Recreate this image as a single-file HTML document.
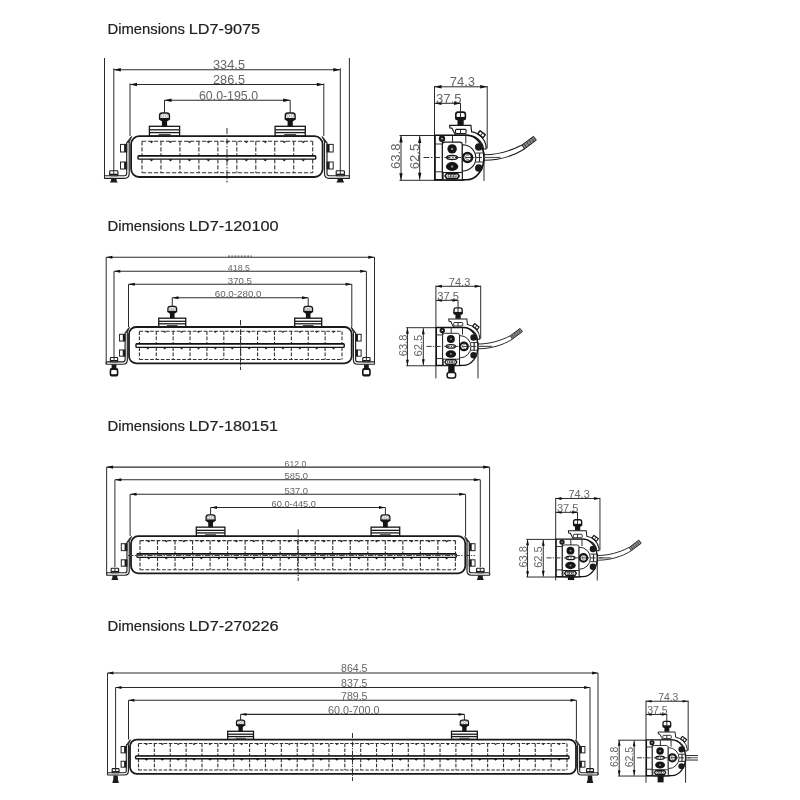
<!DOCTYPE html><html><head><meta charset="utf-8"><style>html,body{margin:0;padding:0;background:#fff;width:800px;height:800px;overflow:hidden}svg{display:block;filter:grayscale(1)}</style></head><body>
<svg width="800" height="800" viewBox="0 0 800 800" font-family='"Liberation Sans", sans-serif'>
<rect width="800" height="800" fill="#fff"/>
<text x="107.5" y="33.7" font-size="15.22" textLength="77.5" lengthAdjust="spacingAndGlyphs" fill="#222" stroke="#222" stroke-width="0.2">Dimensions</text>
<text x="188.75" y="33.7" font-size="15.22" textLength="71.25" lengthAdjust="spacingAndGlyphs" fill="#222" stroke="#222" stroke-width="0.2">LD7-9075</text>
<line x1="104.5" y1="58" x2="104.5" y2="178.7" stroke="#2b2b2b" stroke-width="1" />
<line x1="349.4" y1="58" x2="349.4" y2="178.7" stroke="#2b2b2b" stroke-width="1" />
<line x1="113.8" y1="68.4" x2="113.8" y2="171" stroke="#2b2b2b" stroke-width="1" />
<line x1="340.3" y1="68.4" x2="340.3" y2="171" stroke="#2b2b2b" stroke-width="1" />
<line x1="130" y1="83.4" x2="130" y2="136" stroke="#2b2b2b" stroke-width="1" />
<line x1="323.8" y1="83.4" x2="323.8" y2="136" stroke="#2b2b2b" stroke-width="1" />
<line x1="113.8" y1="69.8" x2="340.3" y2="69.8" stroke="#2b2b2b" stroke-width="1.1" />
<path d="M113.8,69.8 L120.8,68.1 L120.8,71.5 Z" fill="#111"/>
<path d="M340.3,69.8 L333.3,68.1 L333.3,71.5 Z" fill="#111"/>
<text x="213" y="69.2" font-size="12.57" textLength="32" lengthAdjust="spacingAndGlyphs" fill="#666666">334.5</text>
<line x1="130" y1="84.5" x2="323.8" y2="84.5" stroke="#2b2b2b" stroke-width="1.1" />
<path d="M130,84.5 L137,82.8 L137,86.2 Z" fill="#111"/>
<path d="M323.8,84.5 L316.8,82.8 L316.8,86.2 Z" fill="#111"/>
<text x="213" y="83.9" font-size="12.57" textLength="32" lengthAdjust="spacingAndGlyphs" fill="#666666">286.5</text>
<line x1="164.5" y1="100.2" x2="290.2" y2="100.2" stroke="#2b2b2b" stroke-width="1.1" />
<path d="M164.5,100.2 L171.5,98.5 L171.5,101.9 Z" fill="#111"/>
<path d="M290.2,100.2 L283.2,98.5 L283.2,101.9 Z" fill="#111"/>
<text x="199" y="99.6" font-size="12.57" textLength="59" lengthAdjust="spacingAndGlyphs" fill="#666666">60.0-195.0</text>
<line x1="164.5" y1="100.2" x2="164.5" y2="113" stroke="#2b2b2b" stroke-width="1" />
<rect x="149.4" y="126.3" width="30.2" height="9.7" rx="0" fill="#fff" stroke="#151515" stroke-width="1.3" />
<line x1="149.4" y1="129.8" x2="179.6" y2="129.8" stroke="#1a1a1a" stroke-width="1.3" />
<line x1="149.4" y1="132.6" x2="179.6" y2="132.6" stroke="#1a1a1a" stroke-width="1.3" />
<rect x="158.5" y="134" width="12" height="1.2" rx="0" fill="#444" stroke="none" stroke-width="1" />
<path d="M161.1,118.7 L167.9,118.7 L167.1,121.7 L167.1,126.4 L161.9,126.4 L161.9,121.7 Z" fill="#151515"/>
<path d="M159.6,119 L159.6,115.6 Q159.6,113 162.2,113 L166.8,113 Q169.4,113 169.4,115.6 L169.4,119 Z" fill="#fff" stroke="#151515" stroke-width="1.4"/>
<path d="M159.6,118 L169.4,118 L169.4,119.2 Q169.1,120.6 167.3,121 L161.7,121 Q159.9,120.6 159.6,119.2 Z" fill="#151515"/>
<circle cx="162.4" cy="115.9" r="1.5" fill="#fff" stroke="#777" stroke-width="0.6"/>
<circle cx="166.6" cy="115.9" r="1.5" fill="#fff" stroke="#777" stroke-width="0.6"/>
<line x1="290.2" y1="100.2" x2="290.2" y2="113" stroke="#2b2b2b" stroke-width="1" />
<rect x="275.1" y="126.3" width="30.2" height="9.7" rx="0" fill="#fff" stroke="#151515" stroke-width="1.3" />
<line x1="275.1" y1="129.8" x2="305.3" y2="129.8" stroke="#1a1a1a" stroke-width="1.3" />
<line x1="275.1" y1="132.6" x2="305.3" y2="132.6" stroke="#1a1a1a" stroke-width="1.3" />
<rect x="284.2" y="134" width="12" height="1.2" rx="0" fill="#444" stroke="none" stroke-width="1" />
<path d="M286.8,118.7 L293.6,118.7 L292.8,121.7 L292.8,126.4 L287.6,126.4 L287.6,121.7 Z" fill="#151515"/>
<path d="M285.3,119 L285.3,115.6 Q285.3,113 287.9,113 L292.5,113 Q295.1,113 295.1,115.6 L295.1,119 Z" fill="#fff" stroke="#151515" stroke-width="1.4"/>
<path d="M285.3,118 L295.1,118 L295.1,119.2 Q294.8,120.6 293,121 L287.4,121 Q285.6,120.6 285.3,119.2 Z" fill="#151515"/>
<circle cx="288.1" cy="115.9" r="1.5" fill="#fff" stroke="#777" stroke-width="0.6"/>
<circle cx="292.3" cy="115.9" r="1.5" fill="#fff" stroke="#777" stroke-width="0.6"/>
<rect x="131.1" y="136.2" width="191.5" height="40.8" rx="8" fill="#fff" stroke="#1a1a1a" stroke-width="1.8"/>
<line x1="142" y1="141.3" x2="312.7" y2="141.3" stroke="#333" stroke-width="1.1" stroke-dasharray="4.2 1.8"/>
<line x1="142" y1="172.8" x2="312.7" y2="172.8" stroke="#333" stroke-width="1.1" stroke-dasharray="4.2 1.8"/>
<line x1="142" y1="141.3" x2="142" y2="172.8" stroke="#333" stroke-width="1.1" stroke-dasharray="4.2 1.8"/>
<line x1="160.97" y1="141.3" x2="160.97" y2="172.8" stroke="#333" stroke-width="1.1" stroke-dasharray="4.2 1.8"/>
<line x1="179.93" y1="141.3" x2="179.93" y2="172.8" stroke="#333" stroke-width="1.1" stroke-dasharray="4.2 1.8"/>
<line x1="198.9" y1="141.3" x2="198.9" y2="172.8" stroke="#333" stroke-width="1.1" stroke-dasharray="4.2 1.8"/>
<line x1="217.87" y1="141.3" x2="217.87" y2="172.8" stroke="#333" stroke-width="1.1" stroke-dasharray="4.2 1.8"/>
<line x1="236.83" y1="141.3" x2="236.83" y2="172.8" stroke="#333" stroke-width="1.1" stroke-dasharray="4.2 1.8"/>
<line x1="255.8" y1="141.3" x2="255.8" y2="172.8" stroke="#333" stroke-width="1.1" stroke-dasharray="4.2 1.8"/>
<line x1="274.77" y1="141.3" x2="274.77" y2="172.8" stroke="#333" stroke-width="1.1" stroke-dasharray="4.2 1.8"/>
<line x1="293.73" y1="141.3" x2="293.73" y2="172.8" stroke="#333" stroke-width="1.1" stroke-dasharray="4.2 1.8"/>
<line x1="312.7" y1="141.3" x2="312.7" y2="172.8" stroke="#333" stroke-width="1.1" stroke-dasharray="4.2 1.8"/>
<path d="M149.28,141.3 L153.68,141.3 L151.48,143.3 Z" fill="#222"/>
<path d="M149.28,159.3 L153.68,159.3 L151.48,161.5 Z" fill="#222"/>
<path d="M168.25,141.3 L172.65,141.3 L170.45,143.3 Z" fill="#222"/>
<path d="M168.25,159.3 L172.65,159.3 L170.45,161.5 Z" fill="#222"/>
<path d="M187.22,141.3 L191.62,141.3 L189.42,143.3 Z" fill="#222"/>
<path d="M187.22,159.3 L191.62,159.3 L189.42,161.5 Z" fill="#222"/>
<path d="M206.18,141.3 L210.58,141.3 L208.38,143.3 Z" fill="#222"/>
<path d="M206.18,159.3 L210.58,159.3 L208.38,161.5 Z" fill="#222"/>
<path d="M225.15,141.3 L229.55,141.3 L227.35,143.3 Z" fill="#222"/>
<path d="M225.15,159.3 L229.55,159.3 L227.35,161.5 Z" fill="#222"/>
<path d="M244.12,141.3 L248.52,141.3 L246.32,143.3 Z" fill="#222"/>
<path d="M244.12,159.3 L248.52,159.3 L246.32,161.5 Z" fill="#222"/>
<path d="M263.08,141.3 L267.48,141.3 L265.28,143.3 Z" fill="#222"/>
<path d="M263.08,159.3 L267.48,159.3 L265.28,161.5 Z" fill="#222"/>
<path d="M282.05,141.3 L286.45,141.3 L284.25,143.3 Z" fill="#222"/>
<path d="M282.05,159.3 L286.45,159.3 L284.25,161.5 Z" fill="#222"/>
<path d="M301.02,141.3 L305.42,141.3 L303.22,143.3 Z" fill="#222"/>
<path d="M301.02,159.3 L305.42,159.3 L303.22,161.5 Z" fill="#222"/>
<rect x="138" y="155.7" width="177.7" height="3.4" rx="0.8" fill="#fff" stroke="#151515" stroke-width="1.4" />
<line x1="138.5" y1="155.8" x2="315.2" y2="155.8" stroke="#111" stroke-width="1.2" />
<line x1="227" y1="128" x2="227" y2="182.5" stroke="#333" stroke-width="1" stroke-dasharray="6 1.5 1.5 1.5"/>
<path d="M129.2,142 L129.2,173.6 Q129.2,178.4 124.4,178.4 L104.5,178.4" fill="none" stroke="#1e1e1e" stroke-width="1.15"/>
<path d="M126.7,142.6 L126.7,173.5 Q126.7,175.7 124.5,175.7 L104.5,175.7" fill="none" stroke="#1e1e1e" stroke-width="1.15"/>
<line x1="104.5" y1="175.7" x2="104.5" y2="178.4" stroke="#2b2b2b" stroke-width="1.1" />
<path d="M129.2,142 L126.7,142.6 L130.9,137 L131.7,136.5 Z" fill="#333" stroke="#1e1e1e" stroke-width="0.8"/>
<rect x="120.5" y="144.4" width="6.2" height="7.6" rx="0" fill="#fff" stroke="#222" stroke-width="1" />
<rect x="124.1" y="144.4" width="2.6" height="7.6" rx="0" fill="#1a1a1a" stroke="none" stroke-width="1" />
<rect x="120.5" y="162" width="6.2" height="7" rx="0" fill="#fff" stroke="#222" stroke-width="1" />
<rect x="124.1" y="162" width="2.6" height="7" rx="0" fill="#1a1a1a" stroke="none" stroke-width="1" />
<rect x="109.7" y="170.8" width="8.2" height="4.9" rx="0.8" fill="#fff" stroke="#1a1a1a" stroke-width="1.1" />
<line x1="109.7" y1="174.4" x2="117.9" y2="174.4" stroke="#1a1a1a" stroke-width="1.4" />
<line x1="113.8" y1="170.8" x2="113.8" y2="174.4" stroke="#333" stroke-width="1" />
<path d="M111.2,178.8 L116.4,178.8 L116.6,180.62 L117.7,182.5 L109.9,182.5 L111,180.62 Z" fill="#1a1a1a"/>
<path d="M324.5,142 L324.5,173.6 Q324.5,178.4 329.3,178.4 L349.4,178.4" fill="none" stroke="#1e1e1e" stroke-width="1.15"/>
<path d="M327,142.6 L327,173.5 Q327,175.7 329.2,175.7 L349.4,175.7" fill="none" stroke="#1e1e1e" stroke-width="1.15"/>
<line x1="349.4" y1="175.7" x2="349.4" y2="178.4" stroke="#2b2b2b" stroke-width="1.1" />
<path d="M324.5,142 L327,142.6 L322.8,137 L322,136.5 Z" fill="#333" stroke="#1e1e1e" stroke-width="0.8"/>
<rect x="327" y="144.4" width="6.2" height="7.6" rx="0" fill="#fff" stroke="#222" stroke-width="1" />
<rect x="327" y="144.4" width="2.6" height="7.6" rx="0" fill="#1a1a1a" stroke="none" stroke-width="1" />
<rect x="327" y="162" width="6.2" height="7" rx="0" fill="#fff" stroke="#222" stroke-width="1" />
<rect x="327" y="162" width="2.6" height="7" rx="0" fill="#1a1a1a" stroke="none" stroke-width="1" />
<rect x="336.2" y="170.8" width="8.2" height="4.9" rx="0.8" fill="#fff" stroke="#1a1a1a" stroke-width="1.1" />
<line x1="336.2" y1="174.4" x2="344.4" y2="174.4" stroke="#1a1a1a" stroke-width="1.4" />
<line x1="340.3" y1="170.8" x2="340.3" y2="174.4" stroke="#333" stroke-width="1" />
<path d="M337.7,178.8 L342.9,178.8 L343.1,180.62 L344.2,182.5 L336.4,182.5 L337.5,180.62 Z" fill="#1a1a1a"/>
<text x="107.5" y="230.5" font-size="15.22" textLength="77.5" lengthAdjust="spacingAndGlyphs" fill="#222" stroke="#222" stroke-width="0.2">Dimensions</text>
<text x="188.75" y="230.5" font-size="15.22" textLength="89.95" lengthAdjust="spacingAndGlyphs" fill="#222" stroke="#222" stroke-width="0.2">LD7-120100</text>
<line x1="106.2" y1="257.2" x2="106.2" y2="364.4" stroke="#2b2b2b" stroke-width="1" />
<line x1="374.5" y1="257.2" x2="374.5" y2="364.4" stroke="#2b2b2b" stroke-width="1" />
<line x1="114" y1="271.3" x2="114" y2="357.5" stroke="#2b2b2b" stroke-width="1" />
<line x1="366.4" y1="271.3" x2="366.4" y2="357.5" stroke="#2b2b2b" stroke-width="1" />
<line x1="128.5" y1="284.2" x2="128.5" y2="327" stroke="#2b2b2b" stroke-width="1" />
<line x1="351.8" y1="284.2" x2="351.8" y2="327" stroke="#2b2b2b" stroke-width="1" />
<line x1="106.2" y1="257.2" x2="374.5" y2="257.2" stroke="#2b2b2b" stroke-width="1.1" />
<path d="M106.2,257.2 L112.43,255.69 L112.43,258.71 Z" fill="#111"/>
<path d="M374.5,257.2 L368.27,255.69 L368.27,258.71 Z" fill="#111"/>
<line x1="114" y1="271.3" x2="366.4" y2="271.3" stroke="#2b2b2b" stroke-width="1.1" />
<path d="M114,271.3 L120.23,269.79 L120.23,272.81 Z" fill="#111"/>
<path d="M366.4,271.3 L360.17,269.79 L360.17,272.81 Z" fill="#111"/>
<text x="227.8" y="270.7" font-size="9.5" textLength="22.2" lengthAdjust="spacingAndGlyphs" fill="#666666">418.5</text>
<line x1="128.5" y1="284.2" x2="351.8" y2="284.2" stroke="#2b2b2b" stroke-width="1.1" />
<path d="M128.5,284.2 L134.73,282.69 L134.73,285.71 Z" fill="#111"/>
<path d="M351.8,284.2 L345.57,282.69 L345.57,285.71 Z" fill="#111"/>
<text x="227.8" y="283.6" font-size="9.78" textLength="24.2" lengthAdjust="spacingAndGlyphs" fill="#666666">370.5</text>
<line x1="172.25" y1="297.8" x2="308.2" y2="297.8" stroke="#2b2b2b" stroke-width="1.1" />
<path d="M172.25,297.8 L178.48,296.29 L178.48,299.31 Z" fill="#111"/>
<path d="M308.2,297.8 L301.97,296.29 L301.97,299.31 Z" fill="#111"/>
<text x="214.8" y="297.2" font-size="9.78" textLength="46.7" lengthAdjust="spacingAndGlyphs" fill="#666666">60.0-280.0</text>
<line x1="172.25" y1="297.8" x2="172.25" y2="306.35" stroke="#2b2b2b" stroke-width="1" />
<rect x="158.75" y="318.19" width="27" height="8.63" rx="0" fill="#fff" stroke="#151515" stroke-width="1.3" />
<line x1="158.75" y1="321.3" x2="185.75" y2="321.3" stroke="#1a1a1a" stroke-width="1.3" />
<line x1="158.75" y1="323.8" x2="185.75" y2="323.8" stroke="#1a1a1a" stroke-width="1.3" />
<rect x="166.91" y="325.04" width="10.68" height="1.07" rx="0" fill="#444" stroke="none" stroke-width="1" />
<path d="M169.22,311.43 L175.28,311.43 L174.56,314.1 L174.56,318.28 L169.94,318.28 L169.94,314.1 Z" fill="#151515"/>
<path d="M167.89,311.69 L167.89,308.67 Q167.89,306.35 170.2,306.35 L174.3,306.35 Q176.61,306.35 176.61,308.67 L176.61,311.69 Z" fill="#fff" stroke="#151515" stroke-width="1.25"/>
<path d="M167.89,310.8 L176.61,310.8 L176.61,311.87 Q176.34,313.12 174.74,313.47 L169.76,313.47 Q168.16,313.12 167.89,311.87 Z" fill="#151515"/>
<circle cx="170.38" cy="308.93" r="1.33" fill="#fff" stroke="#777" stroke-width="0.6"/>
<circle cx="174.12" cy="308.93" r="1.33" fill="#fff" stroke="#777" stroke-width="0.6"/>
<line x1="308.2" y1="297.8" x2="308.2" y2="306.35" stroke="#2b2b2b" stroke-width="1" />
<rect x="294.7" y="318.19" width="27" height="8.63" rx="0" fill="#fff" stroke="#151515" stroke-width="1.3" />
<line x1="294.7" y1="321.3" x2="321.7" y2="321.3" stroke="#1a1a1a" stroke-width="1.3" />
<line x1="294.7" y1="323.8" x2="321.7" y2="323.8" stroke="#1a1a1a" stroke-width="1.3" />
<rect x="302.86" y="325.04" width="10.68" height="1.07" rx="0" fill="#444" stroke="none" stroke-width="1" />
<path d="M305.17,311.43 L311.23,311.43 L310.51,314.1 L310.51,318.28 L305.89,318.28 L305.89,314.1 Z" fill="#151515"/>
<path d="M303.84,311.69 L303.84,308.67 Q303.84,306.35 306.15,306.35 L310.25,306.35 Q312.56,306.35 312.56,308.67 L312.56,311.69 Z" fill="#fff" stroke="#151515" stroke-width="1.25"/>
<path d="M303.84,310.8 L312.56,310.8 L312.56,311.87 Q312.29,313.12 310.69,313.47 L305.71,313.47 Q304.11,313.12 303.84,311.87 Z" fill="#151515"/>
<circle cx="306.33" cy="308.93" r="1.33" fill="#fff" stroke="#777" stroke-width="0.6"/>
<circle cx="310.07" cy="308.93" r="1.33" fill="#fff" stroke="#777" stroke-width="0.6"/>
<rect x="129" y="327" width="222.7" height="36.3" rx="7.12" fill="#fff" stroke="#1a1a1a" stroke-width="1.8"/>
<line x1="139.4" y1="331.2" x2="342" y2="331.2" stroke="#333" stroke-width="1.1" stroke-dasharray="3.74 1.6"/>
<line x1="139.4" y1="359.5" x2="342" y2="359.5" stroke="#333" stroke-width="1.1" stroke-dasharray="3.74 1.6"/>
<line x1="139.4" y1="331.2" x2="139.4" y2="359.5" stroke="#333" stroke-width="1.1" stroke-dasharray="3.74 1.6"/>
<line x1="156.28" y1="331.2" x2="156.28" y2="359.5" stroke="#333" stroke-width="1.1" stroke-dasharray="3.74 1.6"/>
<line x1="173.17" y1="331.2" x2="173.17" y2="359.5" stroke="#333" stroke-width="1.1" stroke-dasharray="3.74 1.6"/>
<line x1="190.05" y1="331.2" x2="190.05" y2="359.5" stroke="#333" stroke-width="1.1" stroke-dasharray="3.74 1.6"/>
<line x1="206.93" y1="331.2" x2="206.93" y2="359.5" stroke="#333" stroke-width="1.1" stroke-dasharray="3.74 1.6"/>
<line x1="223.82" y1="331.2" x2="223.82" y2="359.5" stroke="#333" stroke-width="1.1" stroke-dasharray="3.74 1.6"/>
<line x1="240.7" y1="331.2" x2="240.7" y2="359.5" stroke="#333" stroke-width="1.1" stroke-dasharray="3.74 1.6"/>
<line x1="257.58" y1="331.2" x2="257.58" y2="359.5" stroke="#333" stroke-width="1.1" stroke-dasharray="3.74 1.6"/>
<line x1="274.47" y1="331.2" x2="274.47" y2="359.5" stroke="#333" stroke-width="1.1" stroke-dasharray="3.74 1.6"/>
<line x1="291.35" y1="331.2" x2="291.35" y2="359.5" stroke="#333" stroke-width="1.1" stroke-dasharray="3.74 1.6"/>
<line x1="308.23" y1="331.2" x2="308.23" y2="359.5" stroke="#333" stroke-width="1.1" stroke-dasharray="3.74 1.6"/>
<line x1="325.12" y1="331.2" x2="325.12" y2="359.5" stroke="#333" stroke-width="1.1" stroke-dasharray="3.74 1.6"/>
<line x1="342" y1="331.2" x2="342" y2="359.5" stroke="#333" stroke-width="1.1" stroke-dasharray="3.74 1.6"/>
<path d="M145.88,331.2 L149.8,331.2 L147.84,332.98 Z" fill="#222"/>
<path d="M145.88,347.6 L149.8,347.6 L147.84,349.56 Z" fill="#222"/>
<path d="M162.77,331.2 L166.68,331.2 L164.72,332.98 Z" fill="#222"/>
<path d="M162.77,347.6 L166.68,347.6 L164.72,349.56 Z" fill="#222"/>
<path d="M179.65,331.2 L183.57,331.2 L181.61,332.98 Z" fill="#222"/>
<path d="M179.65,347.6 L183.57,347.6 L181.61,349.56 Z" fill="#222"/>
<path d="M196.53,331.2 L200.45,331.2 L198.49,332.98 Z" fill="#222"/>
<path d="M196.53,347.6 L200.45,347.6 L198.49,349.56 Z" fill="#222"/>
<path d="M213.42,331.2 L217.33,331.2 L215.38,332.98 Z" fill="#222"/>
<path d="M213.42,347.6 L217.33,347.6 L215.38,349.56 Z" fill="#222"/>
<path d="M230.3,331.2 L234.22,331.2 L232.26,332.98 Z" fill="#222"/>
<path d="M230.3,347.6 L234.22,347.6 L232.26,349.56 Z" fill="#222"/>
<path d="M247.18,331.2 L251.1,331.2 L249.14,332.98 Z" fill="#222"/>
<path d="M247.18,347.6 L251.1,347.6 L249.14,349.56 Z" fill="#222"/>
<path d="M264.07,331.2 L267.98,331.2 L266.02,332.98 Z" fill="#222"/>
<path d="M264.07,347.6 L267.98,347.6 L266.02,349.56 Z" fill="#222"/>
<path d="M280.95,331.2 L284.87,331.2 L282.91,332.98 Z" fill="#222"/>
<path d="M280.95,347.6 L284.87,347.6 L282.91,349.56 Z" fill="#222"/>
<path d="M297.83,331.2 L301.75,331.2 L299.79,332.98 Z" fill="#222"/>
<path d="M297.83,347.6 L301.75,347.6 L299.79,349.56 Z" fill="#222"/>
<path d="M314.72,331.2 L318.63,331.2 L316.68,332.98 Z" fill="#222"/>
<path d="M314.72,347.6 L318.63,347.6 L316.68,349.56 Z" fill="#222"/>
<path d="M331.6,331.2 L335.52,331.2 L333.56,332.98 Z" fill="#222"/>
<path d="M331.6,347.6 L335.52,347.6 L333.56,349.56 Z" fill="#222"/>
<rect x="136" y="343.8" width="208.2" height="3.6" rx="0.8" fill="#fff" stroke="#151515" stroke-width="1.4" />
<line x1="136.5" y1="343.9" x2="343.7" y2="343.9" stroke="#111" stroke-width="1.2" />
<line x1="240.5" y1="320" x2="240.5" y2="370" stroke="#333" stroke-width="1" stroke-dasharray="5.34 1.33 1.33 1.33"/>
<path d="M127.31,332.16 L127.31,359.93 Q127.31,364.2 123.04,364.2 L106.2,364.2" fill="none" stroke="#1e1e1e" stroke-width="1.15"/>
<path d="M125.08,332.7 L125.08,359.84 Q125.08,361.8 123.13,361.8 L106.2,361.8" fill="none" stroke="#1e1e1e" stroke-width="1.15"/>
<line x1="106.2" y1="361.8" x2="106.2" y2="364.2" stroke="#2b2b2b" stroke-width="1.1" />
<path d="M127.31,332.16 L125.08,332.7 L128.8,327.71 L129.6,327.27 Z" fill="#333" stroke="#1e1e1e" stroke-width="0.8"/>
<rect x="119.57" y="334.3" width="5.52" height="6.76" rx="0" fill="#fff" stroke="#222" stroke-width="1" />
<rect x="122.77" y="334.3" width="2.31" height="6.76" rx="0" fill="#1a1a1a" stroke="none" stroke-width="1" />
<rect x="119.57" y="349.96" width="5.52" height="6.23" rx="0" fill="#fff" stroke="#222" stroke-width="1" />
<rect x="122.77" y="349.96" width="2.31" height="6.23" rx="0" fill="#1a1a1a" stroke="none" stroke-width="1" />
<rect x="110.35" y="357.44" width="7.3" height="4.36" rx="0.8" fill="#fff" stroke="#1a1a1a" stroke-width="1.1" />
<line x1="110.35" y1="360.64" x2="117.65" y2="360.64" stroke="#1a1a1a" stroke-width="1.25" />
<line x1="114" y1="357.44" x2="114" y2="360.64" stroke="#333" stroke-width="1" />
<rect x="111.6" y="364.5" width="4.8" height="4.5" rx="0" fill="#1a1a1a" stroke="none" stroke-width="1" />
<rect x="110.4" y="368.8" width="7.2" height="7" rx="2.4" fill="#fff" stroke="#151515" stroke-width="1.6" />
<rect x="110.3" y="368.4" width="7.4" height="1.6" rx="0" fill="#151515" stroke="none" stroke-width="1" />
<rect x="110.3" y="374.2" width="7.4" height="1.6" rx="0.8" fill="#151515" stroke="none" stroke-width="1" />
<path d="M353.39,332.16 L353.39,359.93 Q353.39,364.2 357.66,364.2 L374.5,364.2" fill="none" stroke="#1e1e1e" stroke-width="1.15"/>
<path d="M355.62,332.7 L355.62,359.84 Q355.62,361.8 357.57,361.8 L374.5,361.8" fill="none" stroke="#1e1e1e" stroke-width="1.15"/>
<line x1="374.5" y1="361.8" x2="374.5" y2="364.2" stroke="#2b2b2b" stroke-width="1.1" />
<path d="M353.39,332.16 L355.62,332.7 L351.9,327.71 L351.1,327.27 Z" fill="#333" stroke="#1e1e1e" stroke-width="0.8"/>
<rect x="355.62" y="334.3" width="5.52" height="6.76" rx="0" fill="#fff" stroke="#222" stroke-width="1" />
<rect x="355.62" y="334.3" width="2.31" height="6.76" rx="0" fill="#1a1a1a" stroke="none" stroke-width="1" />
<rect x="355.62" y="349.96" width="5.52" height="6.23" rx="0" fill="#fff" stroke="#222" stroke-width="1" />
<rect x="355.62" y="349.96" width="2.31" height="6.23" rx="0" fill="#1a1a1a" stroke="none" stroke-width="1" />
<rect x="362.75" y="357.44" width="7.3" height="4.36" rx="0.8" fill="#fff" stroke="#1a1a1a" stroke-width="1.1" />
<line x1="362.75" y1="360.64" x2="370.05" y2="360.64" stroke="#1a1a1a" stroke-width="1.25" />
<line x1="366.4" y1="357.44" x2="366.4" y2="360.64" stroke="#333" stroke-width="1" />
<rect x="364" y="364.5" width="4.8" height="4.5" rx="0" fill="#1a1a1a" stroke="none" stroke-width="1" />
<rect x="362.8" y="368.8" width="7.2" height="7" rx="2.4" fill="#fff" stroke="#151515" stroke-width="1.6" />
<rect x="362.7" y="368.4" width="7.4" height="1.6" rx="0" fill="#151515" stroke="none" stroke-width="1" />
<rect x="362.7" y="374.2" width="7.4" height="1.6" rx="0.8" fill="#151515" stroke="none" stroke-width="1" />
<text x="107.5" y="430.5" font-size="15.22" textLength="77.5" lengthAdjust="spacingAndGlyphs" fill="#222" stroke="#222" stroke-width="0.2">Dimensions</text>
<text x="188.75" y="430.5" font-size="15.22" textLength="89.25" lengthAdjust="spacingAndGlyphs" fill="#222" stroke="#222" stroke-width="0.2">LD7-180151</text>
<line x1="106.65" y1="467.1" x2="106.65" y2="575.2" stroke="#2b2b2b" stroke-width="1" />
<line x1="489.6" y1="467.1" x2="489.6" y2="575.2" stroke="#2b2b2b" stroke-width="1" />
<line x1="114.9" y1="479.8" x2="114.9" y2="567" stroke="#2b2b2b" stroke-width="1" />
<line x1="480.3" y1="479.8" x2="480.3" y2="567" stroke="#2b2b2b" stroke-width="1" />
<line x1="130.1" y1="494.3" x2="130.1" y2="536" stroke="#2b2b2b" stroke-width="1" />
<line x1="465.6" y1="494.3" x2="465.6" y2="536" stroke="#2b2b2b" stroke-width="1" />
<line x1="106.65" y1="467.1" x2="489.6" y2="467.1" stroke="#2b2b2b" stroke-width="1.1" />
<path d="M106.65,467.1 L113.06,465.54 L113.06,468.66 Z" fill="#111"/>
<path d="M489.6,467.1 L483.2,465.54 L483.2,468.66 Z" fill="#111"/>
<text x="284.5" y="466.5" font-size="9.08" textLength="22" lengthAdjust="spacingAndGlyphs" fill="#666666">612.0</text>
<line x1="114.9" y1="479.8" x2="480.3" y2="479.8" stroke="#2b2b2b" stroke-width="1.1" />
<path d="M114.9,479.8 L121.31,478.24 L121.31,481.36 Z" fill="#111"/>
<path d="M480.3,479.8 L473.9,478.24 L473.9,481.36 Z" fill="#111"/>
<text x="284.5" y="479.2" font-size="9.78" textLength="23.5" lengthAdjust="spacingAndGlyphs" fill="#666666">585.0</text>
<line x1="130.1" y1="494.3" x2="465.6" y2="494.3" stroke="#2b2b2b" stroke-width="1.1" />
<path d="M130.1,494.3 L136.5,492.74 L136.5,495.86 Z" fill="#111"/>
<path d="M465.6,494.3 L459.2,492.74 L459.2,495.86 Z" fill="#111"/>
<text x="284.5" y="493.7" font-size="9.08" textLength="23.5" lengthAdjust="spacingAndGlyphs" fill="#666666">537.0</text>
<line x1="210.6" y1="507.5" x2="385.4" y2="507.5" stroke="#2b2b2b" stroke-width="1.1" />
<path d="M210.6,507.5 L217,505.94 L217,509.06 Z" fill="#111"/>
<path d="M385.4,507.5 L379,505.94 L379,509.06 Z" fill="#111"/>
<text x="271.5" y="506.9" font-size="9.5" textLength="44.5" lengthAdjust="spacingAndGlyphs" fill="#666666">60.0-445.0</text>
<line x1="210.6" y1="507.5" x2="210.6" y2="514.97" stroke="#2b2b2b" stroke-width="1" />
<rect x="196.3" y="527.14" width="28.6" height="8.88" rx="0" fill="#fff" stroke="#151515" stroke-width="1.3" />
<line x1="196.3" y1="530.34" x2="224.9" y2="530.34" stroke="#1a1a1a" stroke-width="1.3" />
<line x1="196.3" y1="532.91" x2="224.9" y2="532.91" stroke="#1a1a1a" stroke-width="1.3" />
<rect x="205.11" y="534.19" width="10.98" height="1.1" rx="0" fill="#444" stroke="none" stroke-width="1" />
<path d="M207.49,520.19 L213.71,520.19 L212.98,522.93 L212.98,527.23 L208.22,527.23 L208.22,522.93 Z" fill="#151515"/>
<path d="M206.12,520.46 L206.12,517.35 Q206.12,514.97 208.5,514.97 L212.7,514.97 Q215.08,514.97 215.08,517.35 L215.08,520.46 Z" fill="#fff" stroke="#151515" stroke-width="1.28"/>
<path d="M206.12,519.55 L215.08,519.55 L215.08,520.65 Q214.81,521.93 213.16,522.29 L208.04,522.29 Q206.39,521.93 206.12,520.65 Z" fill="#151515"/>
<circle cx="208.68" cy="517.63" r="1.37" fill="#fff" stroke="#777" stroke-width="0.6"/>
<circle cx="212.52" cy="517.63" r="1.37" fill="#fff" stroke="#777" stroke-width="0.6"/>
<line x1="385.4" y1="507.5" x2="385.4" y2="514.97" stroke="#2b2b2b" stroke-width="1" />
<rect x="371.1" y="527.14" width="28.6" height="8.88" rx="0" fill="#fff" stroke="#151515" stroke-width="1.3" />
<line x1="371.1" y1="530.34" x2="399.7" y2="530.34" stroke="#1a1a1a" stroke-width="1.3" />
<line x1="371.1" y1="532.91" x2="399.7" y2="532.91" stroke="#1a1a1a" stroke-width="1.3" />
<rect x="379.91" y="534.19" width="10.98" height="1.1" rx="0" fill="#444" stroke="none" stroke-width="1" />
<path d="M382.29,520.19 L388.51,520.19 L387.78,522.93 L387.78,527.23 L383.02,527.23 L383.02,522.93 Z" fill="#151515"/>
<path d="M380.92,520.46 L380.92,517.35 Q380.92,514.97 383.3,514.97 L387.5,514.97 Q389.88,514.97 389.88,517.35 L389.88,520.46 Z" fill="#fff" stroke="#151515" stroke-width="1.28"/>
<path d="M380.92,519.55 L389.88,519.55 L389.88,520.65 Q389.61,521.93 387.96,522.29 L382.84,522.29 Q381.19,521.93 380.92,520.65 Z" fill="#151515"/>
<circle cx="383.48" cy="517.63" r="1.37" fill="#fff" stroke="#777" stroke-width="0.6"/>
<circle cx="387.32" cy="517.63" r="1.37" fill="#fff" stroke="#777" stroke-width="0.6"/>
<rect x="131" y="536.2" width="334.3" height="37.1" rx="7.32" fill="#fff" stroke="#1a1a1a" stroke-width="1.8"/>
<line x1="140" y1="540.6" x2="455.4" y2="540.6" stroke="#333" stroke-width="1.1" stroke-dasharray="3.84 1.65"/>
<line x1="140" y1="569.8" x2="455.4" y2="569.8" stroke="#333" stroke-width="1.1" stroke-dasharray="3.84 1.65"/>
<line x1="140" y1="540.6" x2="140" y2="569.8" stroke="#333" stroke-width="1.1" stroke-dasharray="3.84 1.65"/>
<line x1="157.52" y1="540.6" x2="157.52" y2="569.8" stroke="#333" stroke-width="1.1" stroke-dasharray="3.84 1.65"/>
<line x1="175.04" y1="540.6" x2="175.04" y2="569.8" stroke="#333" stroke-width="1.1" stroke-dasharray="3.84 1.65"/>
<line x1="192.57" y1="540.6" x2="192.57" y2="569.8" stroke="#333" stroke-width="1.1" stroke-dasharray="3.84 1.65"/>
<line x1="210.09" y1="540.6" x2="210.09" y2="569.8" stroke="#333" stroke-width="1.1" stroke-dasharray="3.84 1.65"/>
<line x1="227.61" y1="540.6" x2="227.61" y2="569.8" stroke="#333" stroke-width="1.1" stroke-dasharray="3.84 1.65"/>
<line x1="245.13" y1="540.6" x2="245.13" y2="569.8" stroke="#333" stroke-width="1.1" stroke-dasharray="3.84 1.65"/>
<line x1="262.66" y1="540.6" x2="262.66" y2="569.8" stroke="#333" stroke-width="1.1" stroke-dasharray="3.84 1.65"/>
<line x1="280.18" y1="540.6" x2="280.18" y2="569.8" stroke="#333" stroke-width="1.1" stroke-dasharray="3.84 1.65"/>
<line x1="297.7" y1="540.6" x2="297.7" y2="569.8" stroke="#333" stroke-width="1.1" stroke-dasharray="3.84 1.65"/>
<line x1="315.22" y1="540.6" x2="315.22" y2="569.8" stroke="#333" stroke-width="1.1" stroke-dasharray="3.84 1.65"/>
<line x1="332.74" y1="540.6" x2="332.74" y2="569.8" stroke="#333" stroke-width="1.1" stroke-dasharray="3.84 1.65"/>
<line x1="350.27" y1="540.6" x2="350.27" y2="569.8" stroke="#333" stroke-width="1.1" stroke-dasharray="3.84 1.65"/>
<line x1="367.79" y1="540.6" x2="367.79" y2="569.8" stroke="#333" stroke-width="1.1" stroke-dasharray="3.84 1.65"/>
<line x1="385.31" y1="540.6" x2="385.31" y2="569.8" stroke="#333" stroke-width="1.1" stroke-dasharray="3.84 1.65"/>
<line x1="402.83" y1="540.6" x2="402.83" y2="569.8" stroke="#333" stroke-width="1.1" stroke-dasharray="3.84 1.65"/>
<line x1="420.36" y1="540.6" x2="420.36" y2="569.8" stroke="#333" stroke-width="1.1" stroke-dasharray="3.84 1.65"/>
<line x1="437.88" y1="540.6" x2="437.88" y2="569.8" stroke="#333" stroke-width="1.1" stroke-dasharray="3.84 1.65"/>
<line x1="455.4" y1="540.6" x2="455.4" y2="569.8" stroke="#333" stroke-width="1.1" stroke-dasharray="3.84 1.65"/>
<path d="M146.75,540.6 L150.77,540.6 L148.76,542.43 Z" fill="#222"/>
<path d="M146.75,557.6 L150.77,557.6 L148.76,559.61 Z" fill="#222"/>
<path d="M164.27,540.6 L168.3,540.6 L166.28,542.43 Z" fill="#222"/>
<path d="M164.27,557.6 L168.3,557.6 L166.28,559.61 Z" fill="#222"/>
<path d="M181.79,540.6 L185.82,540.6 L183.81,542.43 Z" fill="#222"/>
<path d="M181.79,557.6 L185.82,557.6 L183.81,559.61 Z" fill="#222"/>
<path d="M199.31,540.6 L203.34,540.6 L201.33,542.43 Z" fill="#222"/>
<path d="M199.31,557.6 L203.34,557.6 L201.33,559.61 Z" fill="#222"/>
<path d="M216.84,540.6 L220.86,540.6 L218.85,542.43 Z" fill="#222"/>
<path d="M216.84,557.6 L220.86,557.6 L218.85,559.61 Z" fill="#222"/>
<path d="M234.36,540.6 L238.39,540.6 L236.37,542.43 Z" fill="#222"/>
<path d="M234.36,557.6 L238.39,557.6 L236.37,559.61 Z" fill="#222"/>
<path d="M251.88,540.6 L255.91,540.6 L253.89,542.43 Z" fill="#222"/>
<path d="M251.88,557.6 L255.91,557.6 L253.89,559.61 Z" fill="#222"/>
<path d="M269.4,540.6 L273.43,540.6 L271.42,542.43 Z" fill="#222"/>
<path d="M269.4,557.6 L273.43,557.6 L271.42,559.61 Z" fill="#222"/>
<path d="M286.93,540.6 L290.95,540.6 L288.94,542.43 Z" fill="#222"/>
<path d="M286.93,557.6 L290.95,557.6 L288.94,559.61 Z" fill="#222"/>
<path d="M304.45,540.6 L308.47,540.6 L306.46,542.43 Z" fill="#222"/>
<path d="M304.45,557.6 L308.47,557.6 L306.46,559.61 Z" fill="#222"/>
<path d="M321.97,540.6 L326,540.6 L323.98,542.43 Z" fill="#222"/>
<path d="M321.97,557.6 L326,557.6 L323.98,559.61 Z" fill="#222"/>
<path d="M339.49,540.6 L343.52,540.6 L341.51,542.43 Z" fill="#222"/>
<path d="M339.49,557.6 L343.52,557.6 L341.51,559.61 Z" fill="#222"/>
<path d="M357.01,540.6 L361.04,540.6 L359.03,542.43 Z" fill="#222"/>
<path d="M357.01,557.6 L361.04,557.6 L359.03,559.61 Z" fill="#222"/>
<path d="M374.54,540.6 L378.56,540.6 L376.55,542.43 Z" fill="#222"/>
<path d="M374.54,557.6 L378.56,557.6 L376.55,559.61 Z" fill="#222"/>
<path d="M392.06,540.6 L396.09,540.6 L394.07,542.43 Z" fill="#222"/>
<path d="M392.06,557.6 L396.09,557.6 L394.07,559.61 Z" fill="#222"/>
<path d="M409.58,540.6 L413.61,540.6 L411.59,542.43 Z" fill="#222"/>
<path d="M409.58,557.6 L413.61,557.6 L411.59,559.61 Z" fill="#222"/>
<path d="M427.1,540.6 L431.13,540.6 L429.12,542.43 Z" fill="#222"/>
<path d="M427.1,557.6 L431.13,557.6 L429.12,559.61 Z" fill="#222"/>
<path d="M444.63,540.6 L448.65,540.6 L446.64,542.43 Z" fill="#222"/>
<path d="M444.63,557.6 L448.65,557.6 L446.64,559.61 Z" fill="#222"/>
<rect x="137" y="553.8" width="319.3" height="3.6" rx="0.8" fill="#fff" stroke="#151515" stroke-width="1.4" />
<line x1="137.5" y1="553.9" x2="455.8" y2="553.9" stroke="#111" stroke-width="1.2" />
<line x1="298.2" y1="529.4" x2="298.2" y2="581" stroke="#333" stroke-width="1" stroke-dasharray="5.49 1.37 1.37 1.37"/>
<line x1="128" y1="555.5" x2="475" y2="555.5" stroke="#444" stroke-width="1" stroke-dasharray="5.49 1.37 1.37 1.37"/>
<path d="M129.26,541.51 L129.26,570.81 Q129.26,575.2 124.87,575.2 L106.65,575.2" fill="none" stroke="#1e1e1e" stroke-width="1.15"/>
<path d="M126.97,542.06 L126.97,570.72 Q126.97,572.73 124.96,572.73 L106.65,572.73" fill="none" stroke="#1e1e1e" stroke-width="1.15"/>
<line x1="106.65" y1="572.73" x2="106.65" y2="575.2" stroke="#2b2b2b" stroke-width="1.1" />
<path d="M129.26,541.51 L126.97,542.06 L130.8,536.93 L131.6,536.47 Z" fill="#333" stroke="#1e1e1e" stroke-width="0.8"/>
<rect x="121.3" y="543.7" width="5.67" height="6.95" rx="0" fill="#fff" stroke="#222" stroke-width="1" />
<rect x="124.59" y="543.7" width="2.38" height="6.95" rx="0" fill="#1a1a1a" stroke="none" stroke-width="1" />
<rect x="121.3" y="559.81" width="5.67" height="6.4" rx="0" fill="#fff" stroke="#222" stroke-width="1" />
<rect x="124.59" y="559.81" width="2.38" height="6.4" rx="0" fill="#1a1a1a" stroke="none" stroke-width="1" />
<rect x="111.15" y="568.25" width="7.5" height="4.48" rx="0.8" fill="#fff" stroke="#1a1a1a" stroke-width="1.1" />
<line x1="111.15" y1="571.54" x2="118.65" y2="571.54" stroke="#1a1a1a" stroke-width="1.28" />
<line x1="114.9" y1="568.25" x2="114.9" y2="571.54" stroke="#333" stroke-width="1" />
<path d="M112.52,575.6 L117.28,575.6 L117.46,577.9 L118.47,580.1 L111.33,580.1 L112.34,577.9 Z" fill="#1a1a1a"/>
<path d="M467.04,541.51 L467.04,570.81 Q467.04,575.2 471.43,575.2 L489.6,575.2" fill="none" stroke="#1e1e1e" stroke-width="1.15"/>
<path d="M469.33,542.06 L469.33,570.72 Q469.33,572.73 471.34,572.73 L489.6,572.73" fill="none" stroke="#1e1e1e" stroke-width="1.15"/>
<line x1="489.6" y1="572.73" x2="489.6" y2="575.2" stroke="#2b2b2b" stroke-width="1.1" />
<path d="M467.04,541.51 L469.33,542.06 L465.5,536.93 L464.7,536.47 Z" fill="#333" stroke="#1e1e1e" stroke-width="0.8"/>
<rect x="469.33" y="543.7" width="5.67" height="6.95" rx="0" fill="#fff" stroke="#222" stroke-width="1" />
<rect x="469.33" y="543.7" width="2.38" height="6.95" rx="0" fill="#1a1a1a" stroke="none" stroke-width="1" />
<rect x="469.33" y="559.81" width="5.67" height="6.4" rx="0" fill="#fff" stroke="#222" stroke-width="1" />
<rect x="469.33" y="559.81" width="2.38" height="6.4" rx="0" fill="#1a1a1a" stroke="none" stroke-width="1" />
<rect x="476.55" y="568.25" width="7.5" height="4.48" rx="0.8" fill="#fff" stroke="#1a1a1a" stroke-width="1.1" />
<line x1="476.55" y1="571.54" x2="484.05" y2="571.54" stroke="#1a1a1a" stroke-width="1.28" />
<line x1="480.3" y1="568.25" x2="480.3" y2="571.54" stroke="#333" stroke-width="1" />
<path d="M477.92,575.6 L482.68,575.6 L482.86,577.9 L483.87,580.1 L476.73,580.1 L477.74,577.9 Z" fill="#1a1a1a"/>
<text x="107.5" y="630.5" font-size="15.22" textLength="77.5" lengthAdjust="spacingAndGlyphs" fill="#222" stroke="#222" stroke-width="0.2">Dimensions</text>
<text x="188.75" y="630.5" font-size="15.22" textLength="89.95" lengthAdjust="spacingAndGlyphs" fill="#222" stroke="#222" stroke-width="0.2">LD7-270226</text>
<line x1="107.5" y1="673" x2="107.5" y2="775" stroke="#2b2b2b" stroke-width="1" />
<line x1="598" y1="673" x2="598" y2="775" stroke="#2b2b2b" stroke-width="1" />
<line x1="115.6" y1="687.5" x2="115.6" y2="768" stroke="#2b2b2b" stroke-width="1" />
<line x1="590" y1="687.5" x2="590" y2="768" stroke="#2b2b2b" stroke-width="1" />
<line x1="128.5" y1="700.3" x2="128.5" y2="739.5" stroke="#2b2b2b" stroke-width="1" />
<line x1="576.4" y1="700.3" x2="576.4" y2="739.5" stroke="#2b2b2b" stroke-width="1" />
<line x1="107.5" y1="673" x2="598" y2="673" stroke="#2b2b2b" stroke-width="1.1" />
<path d="M107.5,673 L113.38,671.57 L113.38,674.43 Z" fill="#111"/>
<path d="M598,673 L592.12,671.57 L592.12,674.43 Z" fill="#111"/>
<text x="341" y="672.4" font-size="11.17" textLength="26.5" lengthAdjust="spacingAndGlyphs" fill="#666666">864.5</text>
<line x1="115.6" y1="687.5" x2="590" y2="687.5" stroke="#2b2b2b" stroke-width="1.1" />
<path d="M115.6,687.5 L121.48,686.07 L121.48,688.93 Z" fill="#111"/>
<path d="M590,687.5 L584.12,686.07 L584.12,688.93 Z" fill="#111"/>
<text x="341" y="686.9" font-size="10.89" textLength="26.5" lengthAdjust="spacingAndGlyphs" fill="#666666">837.5</text>
<line x1="128.5" y1="700.3" x2="576.4" y2="700.3" stroke="#2b2b2b" stroke-width="1.1" />
<path d="M128.5,700.3 L134.38,698.87 L134.38,701.73 Z" fill="#111"/>
<path d="M576.4,700.3 L570.52,698.87 L570.52,701.73 Z" fill="#111"/>
<text x="341" y="699.7" font-size="10.61" textLength="26.5" lengthAdjust="spacingAndGlyphs" fill="#666666">789.5</text>
<line x1="240.6" y1="714.4" x2="464.4" y2="714.4" stroke="#2b2b2b" stroke-width="1.1" />
<path d="M240.6,714.4 L246.48,712.97 L246.48,715.83 Z" fill="#111"/>
<path d="M464.4,714.4 L458.52,712.97 L458.52,715.83 Z" fill="#111"/>
<text x="328" y="713.8" font-size="11.45" textLength="51.4" lengthAdjust="spacingAndGlyphs" fill="#666666">60.0-700.0</text>
<line x1="240.6" y1="714.4" x2="240.6" y2="720.11" stroke="#2b2b2b" stroke-width="1" />
<rect x="227.7" y="731.28" width="25.8" height="8.15" rx="0" fill="#fff" stroke="#151515" stroke-width="1.3" />
<line x1="227.7" y1="734.22" x2="253.5" y2="734.22" stroke="#1a1a1a" stroke-width="1.3" />
<line x1="227.7" y1="736.58" x2="253.5" y2="736.58" stroke="#1a1a1a" stroke-width="1.3" />
<rect x="235.56" y="737.75" width="10.08" height="1.01" rx="0" fill="#444" stroke="none" stroke-width="1" />
<path d="M237.74,724.9 L243.46,724.9 L242.78,727.42 L242.78,731.37 L238.42,731.37 L238.42,727.42 Z" fill="#151515"/>
<path d="M236.48,725.15 L236.48,722.3 Q236.48,720.11 238.67,720.11 L242.53,720.11 Q244.72,720.11 244.72,722.3 L244.72,725.15 Z" fill="#fff" stroke="#151515" stroke-width="1.18"/>
<path d="M236.48,724.31 L244.72,724.31 L244.72,725.32 Q244.46,726.5 242.95,726.83 L238.25,726.83 Q236.74,726.5 236.48,725.32 Z" fill="#151515"/>
<circle cx="238.84" cy="722.55" r="1.26" fill="#fff" stroke="#777" stroke-width="0.6"/>
<circle cx="242.36" cy="722.55" r="1.26" fill="#fff" stroke="#777" stroke-width="0.6"/>
<line x1="464.4" y1="714.4" x2="464.4" y2="720.11" stroke="#2b2b2b" stroke-width="1" />
<rect x="451.5" y="731.28" width="25.8" height="8.15" rx="0" fill="#fff" stroke="#151515" stroke-width="1.3" />
<line x1="451.5" y1="734.22" x2="477.3" y2="734.22" stroke="#1a1a1a" stroke-width="1.3" />
<line x1="451.5" y1="736.58" x2="477.3" y2="736.58" stroke="#1a1a1a" stroke-width="1.3" />
<rect x="459.36" y="737.75" width="10.08" height="1.01" rx="0" fill="#444" stroke="none" stroke-width="1" />
<path d="M461.54,724.9 L467.26,724.9 L466.58,727.42 L466.58,731.37 L462.22,731.37 L462.22,727.42 Z" fill="#151515"/>
<path d="M460.28,725.15 L460.28,722.3 Q460.28,720.11 462.47,720.11 L466.33,720.11 Q468.52,720.11 468.52,722.3 L468.52,725.15 Z" fill="#fff" stroke="#151515" stroke-width="1.18"/>
<path d="M460.28,724.31 L468.52,724.31 L468.52,725.32 Q468.26,726.5 466.75,726.83 L462.05,726.83 Q460.54,726.5 460.28,725.32 Z" fill="#151515"/>
<circle cx="462.64" cy="722.55" r="1.26" fill="#fff" stroke="#777" stroke-width="0.6"/>
<circle cx="466.16" cy="722.55" r="1.26" fill="#fff" stroke="#777" stroke-width="0.6"/>
<rect x="130" y="739.6" width="446" height="34.2" rx="6.72" fill="#fff" stroke="#1a1a1a" stroke-width="1.8"/>
<line x1="138.5" y1="743.5" x2="567" y2="743.5" stroke="#333" stroke-width="1.1" stroke-dasharray="3.53 1.51"/>
<line x1="138.5" y1="770" x2="567" y2="770" stroke="#333" stroke-width="1.1" stroke-dasharray="3.53 1.51"/>
<line x1="138.5" y1="743.5" x2="138.5" y2="770" stroke="#333" stroke-width="1.1" stroke-dasharray="3.53 1.51"/>
<line x1="154.37" y1="743.5" x2="154.37" y2="770" stroke="#333" stroke-width="1.1" stroke-dasharray="3.53 1.51"/>
<line x1="170.24" y1="743.5" x2="170.24" y2="770" stroke="#333" stroke-width="1.1" stroke-dasharray="3.53 1.51"/>
<line x1="186.11" y1="743.5" x2="186.11" y2="770" stroke="#333" stroke-width="1.1" stroke-dasharray="3.53 1.51"/>
<line x1="201.98" y1="743.5" x2="201.98" y2="770" stroke="#333" stroke-width="1.1" stroke-dasharray="3.53 1.51"/>
<line x1="217.85" y1="743.5" x2="217.85" y2="770" stroke="#333" stroke-width="1.1" stroke-dasharray="3.53 1.51"/>
<line x1="233.72" y1="743.5" x2="233.72" y2="770" stroke="#333" stroke-width="1.1" stroke-dasharray="3.53 1.51"/>
<line x1="249.59" y1="743.5" x2="249.59" y2="770" stroke="#333" stroke-width="1.1" stroke-dasharray="3.53 1.51"/>
<line x1="265.46" y1="743.5" x2="265.46" y2="770" stroke="#333" stroke-width="1.1" stroke-dasharray="3.53 1.51"/>
<line x1="281.33" y1="743.5" x2="281.33" y2="770" stroke="#333" stroke-width="1.1" stroke-dasharray="3.53 1.51"/>
<line x1="297.2" y1="743.5" x2="297.2" y2="770" stroke="#333" stroke-width="1.1" stroke-dasharray="3.53 1.51"/>
<line x1="313.07" y1="743.5" x2="313.07" y2="770" stroke="#333" stroke-width="1.1" stroke-dasharray="3.53 1.51"/>
<line x1="328.94" y1="743.5" x2="328.94" y2="770" stroke="#333" stroke-width="1.1" stroke-dasharray="3.53 1.51"/>
<line x1="344.81" y1="743.5" x2="344.81" y2="770" stroke="#333" stroke-width="1.1" stroke-dasharray="3.53 1.51"/>
<line x1="360.69" y1="743.5" x2="360.69" y2="770" stroke="#333" stroke-width="1.1" stroke-dasharray="3.53 1.51"/>
<line x1="376.56" y1="743.5" x2="376.56" y2="770" stroke="#333" stroke-width="1.1" stroke-dasharray="3.53 1.51"/>
<line x1="392.43" y1="743.5" x2="392.43" y2="770" stroke="#333" stroke-width="1.1" stroke-dasharray="3.53 1.51"/>
<line x1="408.3" y1="743.5" x2="408.3" y2="770" stroke="#333" stroke-width="1.1" stroke-dasharray="3.53 1.51"/>
<line x1="424.17" y1="743.5" x2="424.17" y2="770" stroke="#333" stroke-width="1.1" stroke-dasharray="3.53 1.51"/>
<line x1="440.04" y1="743.5" x2="440.04" y2="770" stroke="#333" stroke-width="1.1" stroke-dasharray="3.53 1.51"/>
<line x1="455.91" y1="743.5" x2="455.91" y2="770" stroke="#333" stroke-width="1.1" stroke-dasharray="3.53 1.51"/>
<line x1="471.78" y1="743.5" x2="471.78" y2="770" stroke="#333" stroke-width="1.1" stroke-dasharray="3.53 1.51"/>
<line x1="487.65" y1="743.5" x2="487.65" y2="770" stroke="#333" stroke-width="1.1" stroke-dasharray="3.53 1.51"/>
<line x1="503.52" y1="743.5" x2="503.52" y2="770" stroke="#333" stroke-width="1.1" stroke-dasharray="3.53 1.51"/>
<line x1="519.39" y1="743.5" x2="519.39" y2="770" stroke="#333" stroke-width="1.1" stroke-dasharray="3.53 1.51"/>
<line x1="535.26" y1="743.5" x2="535.26" y2="770" stroke="#333" stroke-width="1.1" stroke-dasharray="3.53 1.51"/>
<line x1="551.13" y1="743.5" x2="551.13" y2="770" stroke="#333" stroke-width="1.1" stroke-dasharray="3.53 1.51"/>
<line x1="567" y1="743.5" x2="567" y2="770" stroke="#333" stroke-width="1.1" stroke-dasharray="3.53 1.51"/>
<path d="M144.59,743.5 L148.28,743.5 L146.44,745.18 Z" fill="#222"/>
<path d="M144.59,759 L148.28,759 L146.44,760.85 Z" fill="#222"/>
<path d="M160.46,743.5 L164.15,743.5 L162.31,745.18 Z" fill="#222"/>
<path d="M160.46,759 L164.15,759 L162.31,760.85 Z" fill="#222"/>
<path d="M176.33,743.5 L180.02,743.5 L178.18,745.18 Z" fill="#222"/>
<path d="M176.33,759 L180.02,759 L178.18,760.85 Z" fill="#222"/>
<path d="M192.2,743.5 L195.89,743.5 L194.05,745.18 Z" fill="#222"/>
<path d="M192.2,759 L195.89,759 L194.05,760.85 Z" fill="#222"/>
<path d="M208.07,743.5 L211.76,743.5 L209.92,745.18 Z" fill="#222"/>
<path d="M208.07,759 L211.76,759 L209.92,760.85 Z" fill="#222"/>
<path d="M223.94,743.5 L227.64,743.5 L225.79,745.18 Z" fill="#222"/>
<path d="M223.94,759 L227.64,759 L225.79,760.85 Z" fill="#222"/>
<path d="M239.81,743.5 L243.51,743.5 L241.66,745.18 Z" fill="#222"/>
<path d="M239.81,759 L243.51,759 L241.66,760.85 Z" fill="#222"/>
<path d="M255.68,743.5 L259.38,743.5 L257.53,745.18 Z" fill="#222"/>
<path d="M255.68,759 L259.38,759 L257.53,760.85 Z" fill="#222"/>
<path d="M271.55,743.5 L275.25,743.5 L273.4,745.18 Z" fill="#222"/>
<path d="M271.55,759 L275.25,759 L273.4,760.85 Z" fill="#222"/>
<path d="M287.42,743.5 L291.12,743.5 L289.27,745.18 Z" fill="#222"/>
<path d="M287.42,759 L291.12,759 L289.27,760.85 Z" fill="#222"/>
<path d="M303.29,743.5 L306.99,743.5 L305.14,745.18 Z" fill="#222"/>
<path d="M303.29,759 L306.99,759 L305.14,760.85 Z" fill="#222"/>
<path d="M319.16,743.5 L322.86,743.5 L321.01,745.18 Z" fill="#222"/>
<path d="M319.16,759 L322.86,759 L321.01,760.85 Z" fill="#222"/>
<path d="M335.03,743.5 L338.73,743.5 L336.88,745.18 Z" fill="#222"/>
<path d="M335.03,759 L338.73,759 L336.88,760.85 Z" fill="#222"/>
<path d="M350.9,743.5 L354.6,743.5 L352.75,745.18 Z" fill="#222"/>
<path d="M350.9,759 L354.6,759 L352.75,760.85 Z" fill="#222"/>
<path d="M366.77,743.5 L370.47,743.5 L368.62,745.18 Z" fill="#222"/>
<path d="M366.77,759 L370.47,759 L368.62,760.85 Z" fill="#222"/>
<path d="M382.64,743.5 L386.34,743.5 L384.49,745.18 Z" fill="#222"/>
<path d="M382.64,759 L386.34,759 L384.49,760.85 Z" fill="#222"/>
<path d="M398.51,743.5 L402.21,743.5 L400.36,745.18 Z" fill="#222"/>
<path d="M398.51,759 L402.21,759 L400.36,760.85 Z" fill="#222"/>
<path d="M414.38,743.5 L418.08,743.5 L416.23,745.18 Z" fill="#222"/>
<path d="M414.38,759 L418.08,759 L416.23,760.85 Z" fill="#222"/>
<path d="M430.25,743.5 L433.95,743.5 L432.1,745.18 Z" fill="#222"/>
<path d="M430.25,759 L433.95,759 L432.1,760.85 Z" fill="#222"/>
<path d="M446.12,743.5 L449.82,743.5 L447.97,745.18 Z" fill="#222"/>
<path d="M446.12,759 L449.82,759 L447.97,760.85 Z" fill="#222"/>
<path d="M461.99,743.5 L465.69,743.5 L463.84,745.18 Z" fill="#222"/>
<path d="M461.99,759 L465.69,759 L463.84,760.85 Z" fill="#222"/>
<path d="M477.86,743.5 L481.56,743.5 L479.71,745.18 Z" fill="#222"/>
<path d="M477.86,759 L481.56,759 L479.71,760.85 Z" fill="#222"/>
<path d="M493.74,743.5 L497.43,743.5 L495.58,745.18 Z" fill="#222"/>
<path d="M493.74,759 L497.43,759 L495.58,760.85 Z" fill="#222"/>
<path d="M509.61,743.5 L513.3,743.5 L511.45,745.18 Z" fill="#222"/>
<path d="M509.61,759 L513.3,759 L511.45,760.85 Z" fill="#222"/>
<path d="M525.48,743.5 L529.17,743.5 L527.32,745.18 Z" fill="#222"/>
<path d="M525.48,759 L529.17,759 L527.32,760.85 Z" fill="#222"/>
<path d="M541.35,743.5 L545.04,743.5 L543.19,745.18 Z" fill="#222"/>
<path d="M541.35,759 L545.04,759 L543.19,760.85 Z" fill="#222"/>
<path d="M557.22,743.5 L560.91,743.5 L559.06,745.18 Z" fill="#222"/>
<path d="M557.22,759 L560.91,759 L559.06,760.85 Z" fill="#222"/>
<rect x="135.6" y="755.9" width="433.4" height="2.9" rx="0.8" fill="#fff" stroke="#151515" stroke-width="1.4" />
<line x1="136.1" y1="756" x2="568.5" y2="756" stroke="#111" stroke-width="1.2" />
<line x1="352.5" y1="733" x2="352.5" y2="781" stroke="#333" stroke-width="1" stroke-dasharray="5.04 1.26 1.26 1.26"/>
<path d="M128.4,744.47 L128.4,770.97 Q128.4,775 124.37,775 L107.5,775" fill="none" stroke="#1e1e1e" stroke-width="1.15"/>
<path d="M126.3,744.98 L126.3,770.88 Q126.3,772.73 124.46,772.73 L107.5,772.73" fill="none" stroke="#1e1e1e" stroke-width="1.15"/>
<line x1="107.5" y1="772.73" x2="107.5" y2="775" stroke="#2b2b2b" stroke-width="1.1" />
<path d="M128.4,744.47 L126.3,744.98 L129.8,740.27 L130.6,739.85 Z" fill="#333" stroke="#1e1e1e" stroke-width="0.8"/>
<rect x="121.1" y="746.49" width="5.21" height="6.38" rx="0" fill="#fff" stroke="#222" stroke-width="1" />
<rect x="124.12" y="746.49" width="2.18" height="6.38" rx="0" fill="#1a1a1a" stroke="none" stroke-width="1" />
<rect x="121.1" y="761.27" width="5.21" height="5.88" rx="0" fill="#fff" stroke="#222" stroke-width="1" />
<rect x="124.12" y="761.27" width="2.18" height="5.88" rx="0" fill="#1a1a1a" stroke="none" stroke-width="1" />
<rect x="112.16" y="768.62" width="6.89" height="4.12" rx="0.8" fill="#fff" stroke="#1a1a1a" stroke-width="1.1" />
<line x1="112.16" y1="771.64" x2="119.04" y2="771.64" stroke="#1a1a1a" stroke-width="1.18" />
<line x1="115.6" y1="768.62" x2="115.6" y2="771.64" stroke="#333" stroke-width="1" />
<path d="M113.42,775.4 L117.78,775.4 L117.95,779.5 L118.88,782.9 L112.32,782.9 L113.25,779.5 Z" fill="#1a1a1a"/>
<path d="M577.6,744.47 L577.6,770.97 Q577.6,775 581.63,775 L598,775" fill="none" stroke="#1e1e1e" stroke-width="1.15"/>
<path d="M579.7,744.98 L579.7,770.88 Q579.7,772.73 581.54,772.73 L598,772.73" fill="none" stroke="#1e1e1e" stroke-width="1.15"/>
<line x1="598" y1="772.73" x2="598" y2="775" stroke="#2b2b2b" stroke-width="1.1" />
<path d="M577.6,744.47 L579.7,744.98 L576.2,740.27 L575.4,739.85 Z" fill="#333" stroke="#1e1e1e" stroke-width="0.8"/>
<rect x="579.7" y="746.49" width="5.21" height="6.38" rx="0" fill="#fff" stroke="#222" stroke-width="1" />
<rect x="579.7" y="746.49" width="2.18" height="6.38" rx="0" fill="#1a1a1a" stroke="none" stroke-width="1" />
<rect x="579.7" y="761.27" width="5.21" height="5.88" rx="0" fill="#fff" stroke="#222" stroke-width="1" />
<rect x="579.7" y="761.27" width="2.18" height="5.88" rx="0" fill="#1a1a1a" stroke="none" stroke-width="1" />
<rect x="586.56" y="768.62" width="6.89" height="4.12" rx="0.8" fill="#fff" stroke="#1a1a1a" stroke-width="1.1" />
<line x1="586.56" y1="771.64" x2="593.44" y2="771.64" stroke="#1a1a1a" stroke-width="1.18" />
<line x1="590" y1="768.62" x2="590" y2="771.64" stroke="#333" stroke-width="1" />
<path d="M587.82,775.4 L592.18,775.4 L592.35,779.5 L593.28,782.9 L586.72,782.9 L587.65,779.5 Z" fill="#1a1a1a"/>
<g transform="translate(434.5,135.5) scale(1)">
<line x1="0" y1="-49.5" x2="0" y2="45.5" stroke="#2b2b2b" stroke-width="1" />
<line x1="52.7" y1="-49.5" x2="52.7" y2="13" stroke="#2b2b2b" stroke-width="1" />
<line x1="49.5" y1="17" x2="49.5" y2="45.5" stroke="#2b2b2b" stroke-width="1" />
<line x1="-35" y1="0" x2="0" y2="0" stroke="#2b2b2b" stroke-width="1" />
<line x1="-35" y1="44.8" x2="30" y2="44.8" stroke="#2b2b2b" stroke-width="1" />
<line x1="-33.5" y1="0" x2="-33.5" y2="44.8" stroke="#2b2b2b" stroke-width="1" />
<path d="M-33.5,0 L-35.2,7 L-31.8,7 Z" fill="#111"/>
<path d="M-33.5,44.8 L-35.2,37.8 L-31.8,37.8 Z" fill="#111"/>
<line x1="-14.8" y1="0.6" x2="-14.8" y2="44.2" stroke="#2b2b2b" stroke-width="1" />
<path d="M-14.8,0.6 L-16.5,7.6 L-13.1,7.6 Z" fill="#111"/>
<path d="M-14.8,44.2 L-16.5,37.2 L-13.1,37.2 Z" fill="#111"/>
<line x1="0" y1="-48.7" x2="52.7" y2="-48.7" stroke="#2b2b2b" stroke-width="1" />
<path d="M0,-48.7 L7,-50.4 L7,-47 Z" fill="#111"/><path d="M52.7,-48.7 L45.7,-50.4 L45.7,-47 Z" fill="#111"/>
<line x1="0" y1="-32.2" x2="26.5" y2="-32.2" stroke="#2b2b2b" stroke-width="1" />
<path d="M0,-32.2 L7,-33.9 L7,-30.5 Z" fill="#111"/><path d="M26.5,-32.2 L19.5,-33.9 L19.5,-30.5 Z" fill="#111"/>
<text x="15.2" y="-49.3" font-size="13.41" textLength="25.3" lengthAdjust="spacingAndGlyphs" fill="#666666">74.3</text>
<text x="1.5" y="-32.8" font-size="13.41" textLength="25.7" lengthAdjust="spacingAndGlyphs" fill="#666666">37.5</text>
<text transform="translate(-34.5,33.5) rotate(-90)" font-size="12.85" textLength="25.5" lengthAdjust="spacingAndGlyphs" fill="#666666">63.8</text>
<text transform="translate(-15.8,33.8) rotate(-90)" font-size="12.85" textLength="25.5" lengthAdjust="spacingAndGlyphs" fill="#666666">62.5</text>
<line x1="26" y1="-32.2" x2="26" y2="-24" stroke="#2b2b2b" stroke-width="1" />
<rect x="21.3" y="-23.4" width="9.6" height="7.4" rx="2.3" fill="#fff" stroke="#151515" stroke-width="1.6"/>
<line x1="26" y1="-23.4" x2="26" y2="-18.6" stroke="#2b2b2b" stroke-width="1" />
<rect x="20.8" y="-18.6" width="10.6" height="2.6" fill="#151515"/>
<rect x="23" y="-16.1" width="6.2" height="5.6" fill="#151515"/>
<path d="M15.1,-10.2 L36.4,-10.2 L37.1,-3.7 A17,17 0 0 1 51.5,10.7 L51.5,13.5 L49,13.5 A17,15 0 0 0 33,-0.3 L21.3,-0.3 L19.5,-3.2 L17.5,-7.3 L15.4,-7.6 Z" fill="#fff" stroke="#1a1a1a" stroke-width="1.2"/>
<rect x="21" y="-6.1" width="10.6" height="4.1" rx="1" fill="#fff" stroke="#1a1a1a" stroke-width="1.1"/>
<line x1="26" y1="-6.1" x2="26" y2="-2" stroke="#2b2b2b" stroke-width="1" />
<g transform="translate(47,-1.3) rotate(38)"><rect x="-4" y="-2.6" width="8" height="5.2" rx="0.8" fill="#151515"/><rect x="-2.6" y="-1.2" width="2.2" height="2.4" fill="#fff"/><rect x="0.5" y="-1.2" width="2.2" height="2.4" fill="#fff"/></g>
<path d="M0.5,-0.3 L32.3,-0.3 A17.2,22.3 0 0 1 49.5,22 A17.2,22.3 0 0 1 32.3,44.3 L0.5,44.3 Z" fill="#fff" stroke="#111" stroke-width="1.6"/>
<line x1="7.9" y1="0" x2="7.9" y2="44.3" stroke="#2b2b2b" stroke-width="1.2" />
<line x1="0.5" y1="8.5" x2="7.9" y2="8.5" stroke="#2b2b2b" stroke-width="1" />
<line x1="0.5" y1="36.3" x2="7.9" y2="36.3" stroke="#2b2b2b" stroke-width="1" />
<circle cx="7.5" cy="3.2" r="3.2" fill="#1a1a1a"/><circle cx="7.5" cy="3.2" r="0.8" fill="#fff"/>
<line x1="18" y1="0" x2="18" y2="9" stroke="#2b2b2b" stroke-width="1" />
<line x1="31.3" y1="0" x2="31.3" y2="8" stroke="#2b2b2b" stroke-width="1" />
<rect x="7.9" y="6.6" width="19.9" height="37.9" rx="2.5" fill="#fff" stroke="#1a1a1a" stroke-width="1.1"/>
<path d="M27.8,9.3 L28.2,9.3 A13.1,13.1 0 0 1 28.2,35.5 L27.8,35.5 Z" fill="#fff" stroke="#1a1a1a" stroke-width="1.1"/>
<circle cx="33" cy="22" r="4.5" fill="none" stroke="#151515" stroke-width="2.6"/><path d="M34.5,19.8 A2.4,2.4 0 1 0 34.5,24.2" fill="none" stroke="#555" stroke-width="0.9"/>
<circle cx="17.6" cy="13.4" r="4.7" fill="#151515"/><circle cx="17.6" cy="13.4" r="1.2" fill="#888"/>
<ellipse cx="17.6" cy="22" rx="5.4" ry="2" fill="#fff" stroke="#151515" stroke-width="1.5"/>
<ellipse cx="17.6" cy="31" rx="6.2" ry="4.4" fill="#151515"/><circle cx="17.6" cy="31" r="1.2" fill="#888"/>
<circle cx="44.3" cy="11.5" r="3.8" fill="#1a1a1a"/><circle cx="44.3" cy="32.5" r="3.8" fill="#1a1a1a"/>
<line x1="41.3" y1="17.5" x2="49.5" y2="17.5" stroke="#2b2b2b" stroke-width="1" />
<line x1="41.3" y1="26.5" x2="49.5" y2="26.5" stroke="#2b2b2b" stroke-width="1" />
<line x1="45" y1="17.5" x2="45" y2="26.5" stroke="#2b2b2b" stroke-width="1.2" />
<rect x="8.6" y="37" width="19.2" height="7.3" fill="#fff" stroke="#1a1a1a" stroke-width="1.1"/>
<path d="M10.6,40.4 L12.4,37.6 L22.8,37.6 L24.6,40.4 L22.8,43.2 L12.4,43.2 Z" fill="#fff" stroke="#151515" stroke-width="1.6"/>
<rect x="13.6" y="39" width="2.2" height="2.6" fill="none" stroke="#333" stroke-width="0.8"/><rect x="16.5" y="39" width="2.2" height="2.6" fill="none" stroke="#333" stroke-width="0.8"/><rect x="19.4" y="39" width="2.2" height="2.6" fill="none" stroke="#333" stroke-width="0.8"/>
<rect x="14.5" y="44.3" width="7.5" height="0.7" fill="#151515"/>
<line x1="-11" y1="22" x2="56" y2="22" stroke="#333" stroke-width="1" stroke-dasharray="6 1.5 1.5 1.5"/>
<path d="M49.5,19.2 C62,19.2 75,16 87.5,9.5 M49.5,24.8 C64,24.8 78,21 90,13.5" fill="none" stroke="#1a1a1a" stroke-width="1.1"/>
<path d="M87.5,9.5 L99,0.8 L101.8,4.6 L90,13.5 Z" fill="#888" stroke="#1a1a1a" stroke-width="1"/><path d="M89.5,8 L92,11.8 M92,6.2 L94.5,10 M94.5,4.4 L97,8.2 M97,2.6 L99.5,6.4" stroke="#222" stroke-width="0.7"/>
<line x1="50" y1="22" x2="66" y2="22" stroke="#555" stroke-width="1.2" />
</g>
<g transform="translate(435.9,327.7) scale(0.85)">
<line x1="0" y1="-49.5" x2="0" y2="59.6" stroke="#2b2b2b" stroke-width="1.17" />
<line x1="52.7" y1="-49.5" x2="52.7" y2="13" stroke="#2b2b2b" stroke-width="1.17" />
<line x1="49.5" y1="17" x2="49.5" y2="59.6" stroke="#2b2b2b" stroke-width="1.17" />
<line x1="-35" y1="0" x2="0" y2="0" stroke="#2b2b2b" stroke-width="1.17" />
<line x1="-35" y1="44.8" x2="30" y2="44.8" stroke="#2b2b2b" stroke-width="1.17" />
<line x1="-33.5" y1="0" x2="-33.5" y2="44.8" stroke="#2b2b2b" stroke-width="1.17" />
<path d="M-33.5,0 L-35.2,7 L-31.8,7 Z" fill="#111"/>
<path d="M-33.5,44.8 L-35.2,37.8 L-31.8,37.8 Z" fill="#111"/>
<line x1="-14.8" y1="0.6" x2="-14.8" y2="44.2" stroke="#2b2b2b" stroke-width="1.17" />
<path d="M-14.8,0.6 L-16.5,7.6 L-13.1,7.6 Z" fill="#111"/>
<path d="M-14.8,44.2 L-16.5,37.2 L-13.1,37.2 Z" fill="#111"/>
<line x1="0" y1="-48.7" x2="52.7" y2="-48.7" stroke="#2b2b2b" stroke-width="1.17" />
<path d="M0,-48.7 L7,-50.4 L7,-47 Z" fill="#111"/><path d="M52.7,-48.7 L45.7,-50.4 L45.7,-47 Z" fill="#111"/>
<line x1="0" y1="-32.2" x2="26.5" y2="-32.2" stroke="#2b2b2b" stroke-width="1.17" />
<path d="M0,-32.2 L7,-33.9 L7,-30.5 Z" fill="#111"/><path d="M26.5,-32.2 L19.5,-33.9 L19.5,-30.5 Z" fill="#111"/>
<text x="15.2" y="-49.3" font-size="13.41" textLength="25.3" lengthAdjust="spacingAndGlyphs" fill="#666666">74.3</text>
<text x="1.5" y="-32.8" font-size="13.41" textLength="25.7" lengthAdjust="spacingAndGlyphs" fill="#666666">37.5</text>
<text transform="translate(-34.5,33.5) rotate(-90)" font-size="12.85" textLength="25.5" lengthAdjust="spacingAndGlyphs" fill="#666666">63.8</text>
<text transform="translate(-15.8,33.8) rotate(-90)" font-size="12.85" textLength="25.5" lengthAdjust="spacingAndGlyphs" fill="#666666">62.5</text>
<line x1="26" y1="-32.2" x2="26" y2="-24" stroke="#2b2b2b" stroke-width="1.17" />
<rect x="21.3" y="-23.4" width="9.6" height="7.4" rx="2.3" fill="#fff" stroke="#151515" stroke-width="1.6"/>
<line x1="26" y1="-23.4" x2="26" y2="-18.6" stroke="#2b2b2b" stroke-width="1.17" />
<rect x="20.8" y="-18.6" width="10.6" height="2.6" fill="#151515"/>
<rect x="23" y="-16.1" width="6.2" height="5.6" fill="#151515"/>
<path d="M15.1,-10.2 L36.4,-10.2 L37.1,-3.7 A17,17 0 0 1 51.5,10.7 L51.5,13.5 L49,13.5 A17,15 0 0 0 33,-0.3 L21.3,-0.3 L19.5,-3.2 L17.5,-7.3 L15.4,-7.6 Z" fill="#fff" stroke="#1a1a1a" stroke-width="1.2"/>
<rect x="21" y="-6.1" width="10.6" height="4.1" rx="1" fill="#fff" stroke="#1a1a1a" stroke-width="1.1"/>
<line x1="26" y1="-6.1" x2="26" y2="-2" stroke="#2b2b2b" stroke-width="1.17" />
<g transform="translate(47,-1.3) rotate(38)"><rect x="-4" y="-2.6" width="8" height="5.2" rx="0.8" fill="#151515"/><rect x="-2.6" y="-1.2" width="2.2" height="2.4" fill="#fff"/><rect x="0.5" y="-1.2" width="2.2" height="2.4" fill="#fff"/></g>
<path d="M0.5,-0.3 L32.3,-0.3 A17.2,22.3 0 0 1 49.5,22 A17.2,22.3 0 0 1 32.3,44.3 L0.5,44.3 Z" fill="#fff" stroke="#111" stroke-width="1.6"/>
<line x1="7.9" y1="0" x2="7.9" y2="44.3" stroke="#2b2b2b" stroke-width="1.41" />
<line x1="0.5" y1="8.5" x2="7.9" y2="8.5" stroke="#2b2b2b" stroke-width="1.17" />
<line x1="0.5" y1="36.3" x2="7.9" y2="36.3" stroke="#2b2b2b" stroke-width="1.17" />
<circle cx="7.5" cy="3.2" r="3.2" fill="#1a1a1a"/><circle cx="7.5" cy="3.2" r="0.8" fill="#fff"/>
<line x1="18" y1="0" x2="18" y2="9" stroke="#2b2b2b" stroke-width="1.17" />
<line x1="31.3" y1="0" x2="31.3" y2="8" stroke="#2b2b2b" stroke-width="1.17" />
<rect x="7.9" y="6.6" width="19.9" height="37.9" rx="2.5" fill="#fff" stroke="#1a1a1a" stroke-width="1.1"/>
<path d="M27.8,9.3 L28.2,9.3 A13.1,13.1 0 0 1 28.2,35.5 L27.8,35.5 Z" fill="#fff" stroke="#1a1a1a" stroke-width="1.1"/>
<circle cx="33" cy="22" r="4.5" fill="none" stroke="#151515" stroke-width="2.6"/><path d="M34.5,19.8 A2.4,2.4 0 1 0 34.5,24.2" fill="none" stroke="#555" stroke-width="0.9"/>
<circle cx="17.6" cy="13.4" r="4.7" fill="#151515"/><circle cx="17.6" cy="13.4" r="1.2" fill="#888"/>
<ellipse cx="17.6" cy="22" rx="5.4" ry="2" fill="#fff" stroke="#151515" stroke-width="1.5"/>
<ellipse cx="17.6" cy="31" rx="6.2" ry="4.4" fill="#151515"/><circle cx="17.6" cy="31" r="1.2" fill="#888"/>
<circle cx="44.3" cy="11.5" r="3.8" fill="#1a1a1a"/><circle cx="44.3" cy="32.5" r="3.8" fill="#1a1a1a"/>
<line x1="41.3" y1="17.5" x2="49.5" y2="17.5" stroke="#2b2b2b" stroke-width="1.17" />
<line x1="41.3" y1="26.5" x2="49.5" y2="26.5" stroke="#2b2b2b" stroke-width="1.17" />
<line x1="45" y1="17.5" x2="45" y2="26.5" stroke="#2b2b2b" stroke-width="1.41" />
<rect x="8.6" y="37" width="19.2" height="7.3" fill="#fff" stroke="#1a1a1a" stroke-width="1.1"/>
<path d="M10.6,40.4 L12.4,37.6 L22.8,37.6 L24.6,40.4 L22.8,43.2 L12.4,43.2 Z" fill="#fff" stroke="#151515" stroke-width="1.6"/>
<rect x="13.6" y="39" width="2.2" height="2.6" fill="none" stroke="#333" stroke-width="0.8"/><rect x="16.5" y="39" width="2.2" height="2.6" fill="none" stroke="#333" stroke-width="0.8"/><rect x="19.4" y="39" width="2.2" height="2.6" fill="none" stroke="#333" stroke-width="0.8"/>
<rect x="14.5" y="44.3" width="7.5" height="14.8" fill="#151515"/>
<rect x="13.2" y="52.6" width="10" height="6.5" rx="2.5" fill="#fff" stroke="#151515" stroke-width="1.8"/>
<line x1="-11" y1="22" x2="56" y2="22" stroke="#333" stroke-width="1.17" stroke-dasharray="6 1.5 1.5 1.5"/>
<path d="M49.5,19.2 C62,19.2 75,16 87.5,9.5 M49.5,24.8 C64,24.8 78,21 90,13.5" fill="none" stroke="#1a1a1a" stroke-width="1.1"/>
<path d="M87.5,9.5 L99,0.8 L101.8,4.6 L90,13.5 Z" fill="#888" stroke="#1a1a1a" stroke-width="1"/><path d="M89.5,8 L92,11.8 M92,6.2 L94.5,10 M94.5,4.4 L97,8.2 M97,2.6 L99.5,6.4" stroke="#222" stroke-width="0.7"/>
<line x1="50" y1="22" x2="66" y2="22" stroke="#555" stroke-width="1.41" />
</g>
<g transform="translate(555.7,539.4) scale(0.84)">
<line x1="0" y1="-49.5" x2="0" y2="48.9" stroke="#2b2b2b" stroke-width="1.18" />
<line x1="52.7" y1="-49.5" x2="52.7" y2="13" stroke="#2b2b2b" stroke-width="1.18" />
<line x1="49.5" y1="17" x2="49.5" y2="48.9" stroke="#2b2b2b" stroke-width="1.18" />
<line x1="-35" y1="0" x2="0" y2="0" stroke="#2b2b2b" stroke-width="1.18" />
<line x1="-35" y1="44.8" x2="30" y2="44.8" stroke="#2b2b2b" stroke-width="1.18" />
<line x1="-33.5" y1="0" x2="-33.5" y2="44.8" stroke="#2b2b2b" stroke-width="1.18" />
<path d="M-33.5,0 L-35.2,7 L-31.8,7 Z" fill="#111"/>
<path d="M-33.5,44.8 L-35.2,37.8 L-31.8,37.8 Z" fill="#111"/>
<line x1="-14.8" y1="0.6" x2="-14.8" y2="44.2" stroke="#2b2b2b" stroke-width="1.18" />
<path d="M-14.8,0.6 L-16.5,7.6 L-13.1,7.6 Z" fill="#111"/>
<path d="M-14.8,44.2 L-16.5,37.2 L-13.1,37.2 Z" fill="#111"/>
<line x1="0" y1="-48.7" x2="52.7" y2="-48.7" stroke="#2b2b2b" stroke-width="1.18" />
<path d="M0,-48.7 L7,-50.4 L7,-47 Z" fill="#111"/><path d="M52.7,-48.7 L45.7,-50.4 L45.7,-47 Z" fill="#111"/>
<line x1="0" y1="-32.2" x2="26.5" y2="-32.2" stroke="#2b2b2b" stroke-width="1.18" />
<path d="M0,-32.2 L7,-33.9 L7,-30.5 Z" fill="#111"/><path d="M26.5,-32.2 L19.5,-33.9 L19.5,-30.5 Z" fill="#111"/>
<text x="15.2" y="-49.3" font-size="13.41" textLength="25.3" lengthAdjust="spacingAndGlyphs" fill="#666666">74.3</text>
<text x="1.5" y="-32.8" font-size="13.41" textLength="25.7" lengthAdjust="spacingAndGlyphs" fill="#666666">37.5</text>
<text transform="translate(-34.5,33.5) rotate(-90)" font-size="12.85" textLength="25.5" lengthAdjust="spacingAndGlyphs" fill="#666666">63.8</text>
<text transform="translate(-15.8,33.8) rotate(-90)" font-size="12.85" textLength="25.5" lengthAdjust="spacingAndGlyphs" fill="#666666">62.5</text>
<line x1="26" y1="-32.2" x2="26" y2="-24" stroke="#2b2b2b" stroke-width="1.18" />
<rect x="21.3" y="-23.4" width="9.6" height="7.4" rx="2.3" fill="#fff" stroke="#151515" stroke-width="1.6"/>
<line x1="26" y1="-23.4" x2="26" y2="-18.6" stroke="#2b2b2b" stroke-width="1.18" />
<rect x="20.8" y="-18.6" width="10.6" height="2.6" fill="#151515"/>
<rect x="23" y="-16.1" width="6.2" height="5.6" fill="#151515"/>
<path d="M15.1,-10.2 L36.4,-10.2 L37.1,-3.7 A17,17 0 0 1 51.5,10.7 L51.5,13.5 L49,13.5 A17,15 0 0 0 33,-0.3 L21.3,-0.3 L19.5,-3.2 L17.5,-7.3 L15.4,-7.6 Z" fill="#fff" stroke="#1a1a1a" stroke-width="1.2"/>
<rect x="21" y="-6.1" width="10.6" height="4.1" rx="1" fill="#fff" stroke="#1a1a1a" stroke-width="1.1"/>
<line x1="26" y1="-6.1" x2="26" y2="-2" stroke="#2b2b2b" stroke-width="1.18" />
<g transform="translate(47,-1.3) rotate(38)"><rect x="-4" y="-2.6" width="8" height="5.2" rx="0.8" fill="#151515"/><rect x="-2.6" y="-1.2" width="2.2" height="2.4" fill="#fff"/><rect x="0.5" y="-1.2" width="2.2" height="2.4" fill="#fff"/></g>
<path d="M0.5,-0.3 L32.3,-0.3 A17.2,22.3 0 0 1 49.5,22 A17.2,22.3 0 0 1 32.3,44.3 L0.5,44.3 Z" fill="#fff" stroke="#111" stroke-width="1.6"/>
<line x1="7.9" y1="0" x2="7.9" y2="44.3" stroke="#2b2b2b" stroke-width="1.42" />
<line x1="0.5" y1="8.5" x2="7.9" y2="8.5" stroke="#2b2b2b" stroke-width="1.18" />
<line x1="0.5" y1="36.3" x2="7.9" y2="36.3" stroke="#2b2b2b" stroke-width="1.18" />
<circle cx="7.5" cy="3.2" r="3.2" fill="#1a1a1a"/><circle cx="7.5" cy="3.2" r="0.8" fill="#fff"/>
<line x1="18" y1="0" x2="18" y2="9" stroke="#2b2b2b" stroke-width="1.18" />
<line x1="31.3" y1="0" x2="31.3" y2="8" stroke="#2b2b2b" stroke-width="1.18" />
<rect x="7.9" y="6.6" width="19.9" height="37.9" rx="2.5" fill="#fff" stroke="#1a1a1a" stroke-width="1.1"/>
<path d="M27.8,9.3 L28.2,9.3 A13.1,13.1 0 0 1 28.2,35.5 L27.8,35.5 Z" fill="#fff" stroke="#1a1a1a" stroke-width="1.1"/>
<circle cx="33" cy="22" r="4.5" fill="none" stroke="#151515" stroke-width="2.6"/><path d="M34.5,19.8 A2.4,2.4 0 1 0 34.5,24.2" fill="none" stroke="#555" stroke-width="0.9"/>
<circle cx="17.6" cy="13.4" r="4.7" fill="#151515"/><circle cx="17.6" cy="13.4" r="1.2" fill="#888"/>
<ellipse cx="17.6" cy="22" rx="5.4" ry="2" fill="#fff" stroke="#151515" stroke-width="1.5"/>
<ellipse cx="17.6" cy="31" rx="6.2" ry="4.4" fill="#151515"/><circle cx="17.6" cy="31" r="1.2" fill="#888"/>
<circle cx="44.3" cy="11.5" r="3.8" fill="#1a1a1a"/><circle cx="44.3" cy="32.5" r="3.8" fill="#1a1a1a"/>
<line x1="41.3" y1="17.5" x2="49.5" y2="17.5" stroke="#2b2b2b" stroke-width="1.18" />
<line x1="41.3" y1="26.5" x2="49.5" y2="26.5" stroke="#2b2b2b" stroke-width="1.18" />
<line x1="45" y1="17.5" x2="45" y2="26.5" stroke="#2b2b2b" stroke-width="1.42" />
<rect x="8.6" y="37" width="19.2" height="7.3" fill="#fff" stroke="#1a1a1a" stroke-width="1.1"/>
<path d="M10.6,40.4 L12.4,37.6 L22.8,37.6 L24.6,40.4 L22.8,43.2 L12.4,43.2 Z" fill="#fff" stroke="#151515" stroke-width="1.6"/>
<rect x="13.6" y="39" width="2.2" height="2.6" fill="none" stroke="#333" stroke-width="0.8"/><rect x="16.5" y="39" width="2.2" height="2.6" fill="none" stroke="#333" stroke-width="0.8"/><rect x="19.4" y="39" width="2.2" height="2.6" fill="none" stroke="#333" stroke-width="0.8"/>
<rect x="14.5" y="44.3" width="7.5" height="4.1" fill="#151515"/>
<line x1="-11" y1="22" x2="56" y2="22" stroke="#333" stroke-width="1.18" stroke-dasharray="6 1.5 1.5 1.5"/>
<path d="M49.5,19.2 C62,19.2 75,16 87.5,9.5 M49.5,24.8 C64,24.8 78,21 90,13.5" fill="none" stroke="#1a1a1a" stroke-width="1.1"/>
<path d="M87.5,9.5 L99,0.8 L101.8,4.6 L90,13.5 Z" fill="#888" stroke="#1a1a1a" stroke-width="1"/><path d="M89.5,8 L92,11.8 M92,6.2 L94.5,10 M94.5,4.4 L97,8.2 M97,2.6 L99.5,6.4" stroke="#222" stroke-width="0.7"/>
<line x1="50" y1="22" x2="66" y2="22" stroke="#555" stroke-width="1.42" />
</g>
<g transform="translate(646,740.2) scale(0.8)">
<line x1="0" y1="-49.5" x2="0" y2="53.2" stroke="#2b2b2b" stroke-width="1.25" />
<line x1="52.7" y1="-49.5" x2="52.7" y2="13" stroke="#2b2b2b" stroke-width="1.25" />
<line x1="49.5" y1="17" x2="49.5" y2="53.2" stroke="#2b2b2b" stroke-width="1.25" />
<line x1="-35" y1="0" x2="0" y2="0" stroke="#2b2b2b" stroke-width="1.25" />
<line x1="-35" y1="44.8" x2="30" y2="44.8" stroke="#2b2b2b" stroke-width="1.25" />
<line x1="-33.5" y1="0" x2="-33.5" y2="44.8" stroke="#2b2b2b" stroke-width="1.25" />
<path d="M-33.5,0 L-35.2,7 L-31.8,7 Z" fill="#111"/>
<path d="M-33.5,44.8 L-35.2,37.8 L-31.8,37.8 Z" fill="#111"/>
<line x1="-14.8" y1="0.6" x2="-14.8" y2="44.2" stroke="#2b2b2b" stroke-width="1.25" />
<path d="M-14.8,0.6 L-16.5,7.6 L-13.1,7.6 Z" fill="#111"/>
<path d="M-14.8,44.2 L-16.5,37.2 L-13.1,37.2 Z" fill="#111"/>
<line x1="0" y1="-48.7" x2="52.7" y2="-48.7" stroke="#2b2b2b" stroke-width="1.25" />
<path d="M0,-48.7 L7,-50.4 L7,-47 Z" fill="#111"/><path d="M52.7,-48.7 L45.7,-50.4 L45.7,-47 Z" fill="#111"/>
<line x1="0" y1="-32.2" x2="26.5" y2="-32.2" stroke="#2b2b2b" stroke-width="1.25" />
<path d="M0,-32.2 L7,-33.9 L7,-30.5 Z" fill="#111"/><path d="M26.5,-32.2 L19.5,-33.9 L19.5,-30.5 Z" fill="#111"/>
<text x="15.2" y="-49.3" font-size="13.41" textLength="25.3" lengthAdjust="spacingAndGlyphs" fill="#666666">74.3</text>
<text x="1.5" y="-32.8" font-size="13.41" textLength="25.7" lengthAdjust="spacingAndGlyphs" fill="#666666">37.5</text>
<text transform="translate(-34.5,33.5) rotate(-90)" font-size="12.85" textLength="25.5" lengthAdjust="spacingAndGlyphs" fill="#666666">63.8</text>
<text transform="translate(-15.8,33.8) rotate(-90)" font-size="12.85" textLength="25.5" lengthAdjust="spacingAndGlyphs" fill="#666666">62.5</text>
<line x1="26" y1="-32.2" x2="26" y2="-24" stroke="#2b2b2b" stroke-width="1.25" />
<rect x="21.3" y="-23.4" width="9.6" height="7.4" rx="2.3" fill="#fff" stroke="#151515" stroke-width="1.6"/>
<line x1="26" y1="-23.4" x2="26" y2="-18.6" stroke="#2b2b2b" stroke-width="1.25" />
<rect x="20.8" y="-18.6" width="10.6" height="2.6" fill="#151515"/>
<rect x="23" y="-16.1" width="6.2" height="5.6" fill="#151515"/>
<path d="M15.1,-10.2 L36.4,-10.2 L37.1,-3.7 A17,17 0 0 1 51.5,10.7 L51.5,13.5 L49,13.5 A17,15 0 0 0 33,-0.3 L21.3,-0.3 L19.5,-3.2 L17.5,-7.3 L15.4,-7.6 Z" fill="#fff" stroke="#1a1a1a" stroke-width="1.2"/>
<rect x="21" y="-6.1" width="10.6" height="4.1" rx="1" fill="#fff" stroke="#1a1a1a" stroke-width="1.1"/>
<line x1="26" y1="-6.1" x2="26" y2="-2" stroke="#2b2b2b" stroke-width="1.25" />
<g transform="translate(47,-1.3) rotate(38)"><rect x="-4" y="-2.6" width="8" height="5.2" rx="0.8" fill="#151515"/><rect x="-2.6" y="-1.2" width="2.2" height="2.4" fill="#fff"/><rect x="0.5" y="-1.2" width="2.2" height="2.4" fill="#fff"/></g>
<path d="M0.5,-0.3 L32.3,-0.3 A17.2,22.3 0 0 1 49.5,22 A17.2,22.3 0 0 1 32.3,44.3 L0.5,44.3 Z" fill="#fff" stroke="#111" stroke-width="1.6"/>
<line x1="7.9" y1="0" x2="7.9" y2="44.3" stroke="#2b2b2b" stroke-width="1.5" />
<line x1="0.5" y1="8.5" x2="7.9" y2="8.5" stroke="#2b2b2b" stroke-width="1.25" />
<line x1="0.5" y1="36.3" x2="7.9" y2="36.3" stroke="#2b2b2b" stroke-width="1.25" />
<circle cx="7.5" cy="3.2" r="3.2" fill="#1a1a1a"/><circle cx="7.5" cy="3.2" r="0.8" fill="#fff"/>
<line x1="18" y1="0" x2="18" y2="9" stroke="#2b2b2b" stroke-width="1.25" />
<line x1="31.3" y1="0" x2="31.3" y2="8" stroke="#2b2b2b" stroke-width="1.25" />
<rect x="7.9" y="6.6" width="19.9" height="37.9" rx="2.5" fill="#fff" stroke="#1a1a1a" stroke-width="1.1"/>
<path d="M27.8,9.3 L28.2,9.3 A13.1,13.1 0 0 1 28.2,35.5 L27.8,35.5 Z" fill="#fff" stroke="#1a1a1a" stroke-width="1.1"/>
<circle cx="33" cy="22" r="4.5" fill="none" stroke="#151515" stroke-width="2.6"/><path d="M34.5,19.8 A2.4,2.4 0 1 0 34.5,24.2" fill="none" stroke="#555" stroke-width="0.9"/>
<circle cx="17.6" cy="13.4" r="4.7" fill="#151515"/><circle cx="17.6" cy="13.4" r="1.2" fill="#888"/>
<ellipse cx="17.6" cy="22" rx="5.4" ry="2" fill="#fff" stroke="#151515" stroke-width="1.5"/>
<ellipse cx="17.6" cy="31" rx="6.2" ry="4.4" fill="#151515"/><circle cx="17.6" cy="31" r="1.2" fill="#888"/>
<circle cx="44.3" cy="11.5" r="3.8" fill="#1a1a1a"/><circle cx="44.3" cy="32.5" r="3.8" fill="#1a1a1a"/>
<line x1="41.3" y1="17.5" x2="49.5" y2="17.5" stroke="#2b2b2b" stroke-width="1.25" />
<line x1="41.3" y1="26.5" x2="49.5" y2="26.5" stroke="#2b2b2b" stroke-width="1.25" />
<line x1="45" y1="17.5" x2="45" y2="26.5" stroke="#2b2b2b" stroke-width="1.5" />
<rect x="8.6" y="37" width="19.2" height="7.3" fill="#fff" stroke="#1a1a1a" stroke-width="1.1"/>
<path d="M10.6,40.4 L12.4,37.6 L22.8,37.6 L24.6,40.4 L22.8,43.2 L12.4,43.2 Z" fill="#fff" stroke="#151515" stroke-width="1.6"/>
<rect x="13.6" y="39" width="2.2" height="2.6" fill="none" stroke="#333" stroke-width="0.8"/><rect x="16.5" y="39" width="2.2" height="2.6" fill="none" stroke="#333" stroke-width="0.8"/><rect x="19.4" y="39" width="2.2" height="2.6" fill="none" stroke="#333" stroke-width="0.8"/>
<rect x="14.5" y="44.3" width="7.5" height="8.4" fill="#151515"/>
<line x1="-11" y1="22" x2="56" y2="22" stroke="#333" stroke-width="1.25" stroke-dasharray="6 1.5 1.5 1.5"/>
<line x1="49.5" y1="19.2" x2="65" y2="19.2" stroke="#2b2b2b" stroke-width="1.25" />
<line x1="49.5" y1="24.8" x2="65" y2="24.8" stroke="#2b2b2b" stroke-width="1.25" />
<line x1="50" y1="22" x2="65" y2="22" stroke="#555" stroke-width="1.25" />
</g>
<path d="M228,256.4 h24" stroke="#777" stroke-width="1.6" stroke-dasharray="2 1.2"/>
</svg></body></html>
